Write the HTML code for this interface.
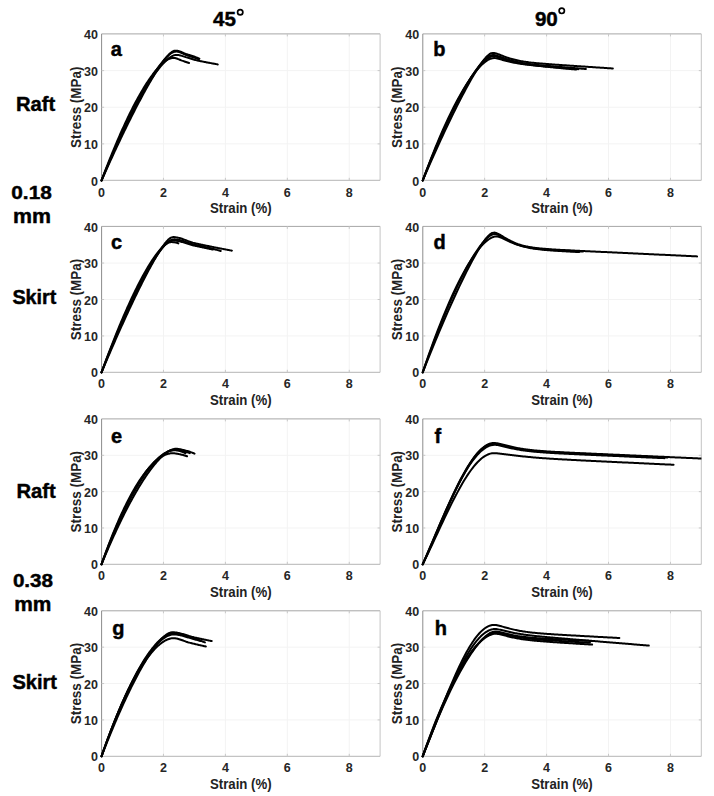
<!DOCTYPE html><html><head><meta charset="utf-8"><style>
html,body{margin:0;padding:0;background:#fff;}body{width:714px;height:796px;overflow:hidden;position:relative;}
svg{position:absolute;left:0;top:0;display:block;}
text{font-family:"Liberation Sans",sans-serif;font-weight:bold;}
.tk{font-size:12.5px;fill:#262626;}.al{font-size:13.8px;fill:#222;}.lt{font-size:20px;fill:#000;stroke:#000;stroke-width:0.45px;}.rl{fill:#000;stroke:#000;stroke-width:0.45px;}
</style></head><body>
<svg width="714" height="796" viewBox="0 0 714 796">
<text class="rl" x="213.0" y="25.5" font-size="20.6">45</text><circle cx="240.2" cy="12.3" r="2.65" fill="none" stroke="#000" stroke-width="1.7"/>
<text class="rl" x="534.9" y="25.7" font-size="20.6">90</text><circle cx="561.75" cy="10.85" r="2.65" fill="none" stroke="#000" stroke-width="1.7"/>
<text class="rl" x="15.9" y="111.1" font-size="20" textLength="39.3" lengthAdjust="spacingAndGlyphs">Raft</text>
<text class="rl" x="11.3" y="199.0" font-size="19.2" textLength="40.5" lengthAdjust="spacingAndGlyphs">0.18</text>
<text class="rl" x="13.1" y="222.5" font-size="20.4" textLength="38.0" lengthAdjust="spacingAndGlyphs">mm</text>
<text class="rl" x="12.4" y="303.6" font-size="20" textLength="44.0" lengthAdjust="spacingAndGlyphs">Skirt</text>
<text class="rl" x="16.4" y="497.9" font-size="20" textLength="39.3" lengthAdjust="spacingAndGlyphs">Raft</text>
<text class="rl" x="12.9" y="586.7" font-size="19.2" textLength="40.2" lengthAdjust="spacingAndGlyphs">0.38</text>
<text class="rl" x="14.2" y="611.2" font-size="20.4" textLength="37.2" lengthAdjust="spacingAndGlyphs">mm</text>
<text class="rl" x="12.4" y="689.1" font-size="20" textLength="44.6" lengthAdjust="spacingAndGlyphs">Skirt</text>
<path d="M163.44 34.00V180.50M225.38 34.00V180.50M287.32 34.00V180.50M349.26 34.00V180.50M101.50 143.88H380.23M101.50 107.25H380.23M101.50 70.62H380.23" stroke="#f3f3f3" stroke-width="1" fill="none"/>
<path d="M101.60 33.90H380.10" stroke="#a6a6a6" stroke-width="1" fill="none"/>
<path d="M380.10 33.90V180.30" stroke="#c4c4c4" stroke-width="1" fill="none"/>
<path d="M101.60 180.30H380.10" stroke="#b4b4b4" stroke-width="1" fill="none"/>
<path d="M101.60 33.90V180.30" stroke="#8c8c8c" stroke-width="1" fill="none"/>
<path d="M163.44 180.30v-2.5M163.44 33.90v2.5M225.38 180.30v-2.5M225.38 33.90v2.5M287.32 180.30v-2.5M287.32 33.90v2.5M349.26 180.30v-2.5M349.26 33.90v2.5M101.60 143.88h2.5M380.10 143.88h-2.5M101.60 107.25h2.5M380.10 107.25h-2.5M101.60 70.62h2.5M380.10 70.62h-2.5" stroke="#c8c8c8" stroke-width="1" fill="none"/>
<text class="tk" x="98.00" y="185.50" text-anchor="end">0</text>
<text class="tk" x="98.00" y="148.88" text-anchor="end">10</text>
<text class="tk" x="98.00" y="112.25" text-anchor="end">20</text>
<text class="tk" x="98.00" y="75.62" text-anchor="end">30</text>
<text class="tk" x="98.00" y="39.00" text-anchor="end">40</text>
<text class="tk" x="101.50" y="196.50" text-anchor="middle">0</text>
<text class="tk" x="163.44" y="196.50" text-anchor="middle">2</text>
<text class="tk" x="225.38" y="196.50" text-anchor="middle">4</text>
<text class="tk" x="287.32" y="196.50" text-anchor="middle">6</text>
<text class="tk" x="349.26" y="196.50" text-anchor="middle">8</text>
<text class="al" x="240.77" y="212.70" text-anchor="middle" textLength="61.6" lengthAdjust="spacingAndGlyphs">Strain (%)</text>
<text class="al" transform="translate(80.60,107.25) rotate(-90)" x="0" y="0" text-anchor="middle" textLength="81.5" lengthAdjust="spacingAndGlyphs">Stress (MPa)</text>
<text class="lt" x="110.80" y="56.00">a</text>
<g fill="none" stroke="#000" stroke-width="2" stroke-linejoin="round" stroke-linecap="round"><clipPath id="cp00"><rect x="99.5" y="32.0" width="280.73" height="150.5"/></clipPath>
<path clip-path="url(#cp00)" d="M101.50 180.50 L102.28 178.74 L103.07 176.98 L103.85 175.23 L104.63 173.48 L105.42 171.74 L106.20 170.00 L106.98 168.27 L107.77 166.54 L108.55 164.82 L109.33 163.10 L110.11 161.38 L110.90 159.67 L111.68 157.97 L112.46 156.27 L113.25 154.57 L114.03 152.88 L114.81 151.20 L115.60 149.52 L116.38 147.85 L117.16 146.18 L117.95 144.51 L118.73 142.85 L119.51 141.20 L120.30 139.55 L121.08 137.91 L121.86 136.28 L122.65 134.65 L123.43 133.02 L124.21 131.40 L125.00 129.79 L125.78 128.19 L126.56 126.58 L127.34 124.99 L128.13 123.40 L128.91 121.82 L129.69 120.25 L130.48 118.68 L131.26 117.12 L132.04 115.56 L132.83 114.01 L133.61 112.47 L134.39 110.94 L135.18 109.41 L135.96 107.89 L136.74 106.38 L137.53 104.87 L138.31 103.38 L139.09 101.89 L139.88 100.41 L140.66 98.94 L141.44 97.47 L142.22 96.02 L143.01 94.57 L143.79 93.13 L144.57 91.71 L145.36 90.29 L146.14 88.88 L146.92 87.48 L147.71 86.09 L148.49 84.71 L149.27 83.34 L150.06 81.99 L150.84 80.64 L151.62 79.31 L152.41 77.99 L153.19 76.68 L153.97 75.39 L154.76 74.10 L155.54 72.84 L156.32 71.59 L157.11 70.35 L157.89 69.13 L158.67 67.93 L159.45 66.74 L160.24 65.58 L161.02 64.43 L161.80 63.31 L162.59 62.21 L163.37 61.14 L164.15 60.09 L164.94 59.08 L165.72 58.09 L166.50 57.14 L167.29 56.23 L168.07 55.37 L168.85 54.55 L169.64 53.78 L170.42 53.09 L171.20 52.45 L171.99 51.90 L172.77 51.43 L173.55 51.05 L174.33 50.83 L175.12 50.67 L175.90 50.63 L176.68 50.68 L177.47 50.80 L178.25 50.97 L179.03 51.18 L179.82 51.44 L180.60 51.73 L181.38 52.04 L182.17 52.37 L182.95 52.71 L183.73 53.05 L184.52 53.39 L185.30 53.71 L186.08 54.01 L186.87 54.28 L187.65 54.54 L188.43 54.78 L189.21 55.03 L190.00 55.27 L190.78 55.51 L191.56 55.76 L192.35 56.01 L193.13 56.27 L193.91 56.53 L194.70 56.81 L195.48 57.10 L196.26 57.39 L197.05 57.70 L197.83 58.01 L198.61 58.33 L199.40 58.65"/>
<path clip-path="url(#cp00)" d="M101.50 180.50 L102.28 178.60 L103.07 176.70 L103.85 174.82 L104.64 172.94 L105.42 171.06 L106.21 169.20 L106.99 167.34 L107.77 165.49 L108.56 163.65 L109.34 161.82 L110.13 159.99 L110.91 158.18 L111.70 156.37 L112.48 154.57 L113.26 152.78 L114.05 150.99 L114.83 149.22 L115.62 147.45 L116.40 145.69 L117.18 143.94 L117.97 142.20 L118.75 140.47 L119.54 138.74 L120.32 137.03 L121.11 135.32 L121.89 133.62 L122.67 131.94 L123.46 130.26 L124.24 128.59 L125.03 126.93 L125.81 125.28 L126.60 123.64 L127.38 122.01 L128.16 120.39 L128.95 118.78 L129.73 117.18 L130.52 115.59 L131.30 114.01 L132.09 112.44 L132.87 110.88 L133.65 109.33 L134.44 107.79 L135.22 106.27 L136.01 104.75 L136.79 103.25 L137.58 101.76 L138.36 100.28 L139.14 98.81 L139.93 97.35 L140.71 95.90 L141.50 94.47 L142.28 93.05 L143.06 91.65 L143.85 90.25 L144.63 88.87 L145.42 87.50 L146.20 86.15 L146.99 84.81 L147.77 83.48 L148.55 82.17 L149.34 80.88 L150.12 79.60 L150.91 78.33 L151.69 77.08 L152.48 75.85 L153.26 74.63 L154.04 73.43 L154.83 72.25 L155.61 71.09 L156.40 69.94 L157.18 68.82 L157.97 67.71 L158.75 66.63 L159.53 65.57 L160.32 64.53 L161.10 63.51 L161.89 62.52 L162.67 61.56 L163.45 60.62 L164.24 59.71 L165.02 58.83 L165.81 57.99 L166.59 57.18 L167.38 56.40 L168.16 55.67 L168.94 54.98 L169.73 54.34 L170.51 53.75 L171.30 53.22 L172.08 52.75 L172.87 52.36 L173.65 52.02 L174.43 51.81 L175.22 51.66 L176.00 51.58 L176.79 51.61 L177.57 51.70 L178.36 51.86 L179.14 52.08 L179.92 52.34 L180.71 52.64 L181.49 52.96 L182.28 53.31 L183.06 53.66 L183.85 54.02 L184.63 54.37 L185.41 54.70 L186.20 55.00 L186.98 55.27 L187.77 55.53 L188.55 55.77 L189.33 56.01 L190.12 56.25 L190.90 56.49 L191.69 56.73 L192.47 56.98 L193.26 57.23 L194.04 57.50 L194.82 57.77 L195.61 58.05 L196.39 58.35 L197.18 58.65 L197.96 58.96 L198.75 59.27"/>
<path clip-path="url(#cp00)" d="M101.50 180.50 L102.28 178.57 L103.06 176.66 L103.84 174.75 L104.62 172.85 L105.40 170.96 L106.18 169.08 L106.96 167.21 L107.74 165.35 L108.52 163.50 L109.30 161.66 L110.09 159.82 L110.87 158.00 L111.65 156.19 L112.43 154.38 L113.21 152.59 L113.99 150.81 L114.77 149.03 L115.55 147.27 L116.33 145.52 L117.11 143.77 L117.89 142.04 L118.67 140.32 L119.45 138.61 L120.23 136.90 L121.01 135.21 L121.79 133.53 L122.57 131.87 L123.35 130.21 L124.13 128.56 L124.91 126.92 L125.70 125.30 L126.48 123.69 L127.26 122.08 L128.04 120.49 L128.82 118.91 L129.60 117.35 L130.38 115.79 L131.16 114.25 L131.94 112.72 L132.72 111.20 L133.50 109.69 L134.28 108.20 L135.06 106.71 L135.84 105.24 L136.62 103.79 L137.40 102.34 L138.18 100.92 L138.96 99.50 L139.74 98.10 L140.52 96.71 L141.30 95.33 L142.09 93.97 L142.87 92.62 L143.65 91.29 L144.43 89.97 L145.21 88.67 L145.99 87.38 L146.77 86.11 L147.55 84.85 L148.33 83.61 L149.11 82.39 L149.89 81.18 L150.67 79.99 L151.45 78.81 L152.23 77.65 L153.01 76.52 L153.79 75.40 L154.57 74.29 L155.35 73.21 L156.13 72.15 L156.91 71.10 L157.69 70.08 L158.48 69.08 L159.26 68.10 L160.04 67.14 L160.82 66.21 L161.60 65.30 L162.38 64.41 L163.16 63.56 L163.94 62.73 L164.72 61.92 L165.50 61.15 L166.28 60.41 L167.06 59.70 L167.84 59.03 L168.62 58.40 L169.40 57.81 L170.18 57.26 L170.96 56.76 L171.74 56.30 L172.52 55.91 L173.30 55.58 L174.09 55.29 L174.87 55.11 L175.65 54.98 L176.43 54.92 L177.21 54.93 L177.99 54.99 L178.77 55.11 L179.55 55.25 L180.33 55.44 L181.11 55.65 L181.89 55.87 L182.67 56.12 L183.45 56.37 L184.23 56.63 L185.01 56.88 L185.79 57.13 L186.57 57.35 L187.35 57.57 L188.13 57.79 L188.91 58.03 L189.69 58.27 L190.48 58.51 L191.26 58.76 L192.04 59.01 L192.82 59.25 L193.60 59.48 L194.38 59.71 L195.16 59.92 L195.94 60.12 L196.72 60.31 L197.50 60.49 L198.28 60.67 L199.06 60.84 L199.84 61.01 L200.62 61.17 L201.40 61.33 L202.18 61.49 L202.96 61.64 L203.74 61.79 L204.52 61.94 L205.30 62.09 L206.09 62.25 L206.87 62.40 L207.65 62.55 L208.43 62.70 L209.21 62.85 L209.99 63.00 L210.77 63.14 L211.55 63.29 L212.33 63.43 L213.11 63.57 L213.89 63.71 L214.67 63.85 L215.45 63.99 L216.23 64.13 L217.01 64.26 L217.79 64.40"/>
<path clip-path="url(#cp00)" d="M101.50 180.50 L102.28 178.41 L103.06 176.34 L103.85 174.28 L104.63 172.23 L105.41 170.19 L106.19 168.17 L106.98 166.16 L107.76 164.16 L108.54 162.17 L109.32 160.20 L110.10 158.24 L110.89 156.30 L111.67 154.37 L112.45 152.45 L113.23 150.54 L114.02 148.65 L114.80 146.77 L115.58 144.91 L116.36 143.06 L117.15 141.22 L117.93 139.40 L118.71 137.59 L119.49 135.80 L120.27 134.02 L121.06 132.25 L121.84 130.50 L122.62 128.77 L123.40 127.04 L124.19 125.34 L124.97 123.64 L125.75 121.97 L126.53 120.31 L127.31 118.66 L128.10 117.03 L128.88 115.41 L129.66 113.81 L130.44 112.23 L131.23 110.66 L132.01 109.11 L132.79 107.57 L133.57 106.05 L134.36 104.55 L135.14 103.06 L135.92 101.59 L136.70 100.14 L137.48 98.70 L138.27 97.28 L139.05 95.88 L139.83 94.50 L140.61 93.14 L141.40 91.79 L142.18 90.46 L142.96 89.15 L143.74 87.86 L144.52 86.59 L145.31 85.33 L146.09 84.10 L146.87 82.89 L147.65 81.70 L148.44 80.52 L149.22 79.37 L150.00 78.24 L150.78 77.13 L151.57 76.05 L152.35 74.98 L153.13 73.94 L153.91 72.92 L154.69 71.93 L155.48 70.96 L156.26 70.01 L157.04 69.09 L157.82 68.20 L158.61 67.33 L159.39 66.49 L160.17 65.68 L160.95 64.90 L161.73 64.15 L162.52 63.44 L163.30 62.75 L164.08 62.10 L164.86 61.49 L165.65 60.92 L166.43 60.39 L167.21 59.89 L167.99 59.45 L168.78 59.06 L169.56 58.71 L170.34 58.43 L171.12 58.19 L171.90 58.05 L172.69 57.95 L173.47 57.92 L174.25 57.96 L175.03 58.08 L175.82 58.26 L176.60 58.50 L177.38 58.77 L178.16 59.08 L178.94 59.40 L179.73 59.73 L180.51 60.05 L181.29 60.36 L182.07 60.65 L182.86 60.91 L183.64 61.17 L184.42 61.43 L185.20 61.69 L185.99 61.96 L186.77 62.23 L187.55 62.50 L188.33 62.77 L189.11 63.04"/>
</g>
<path d="M163.44 226.60V372.40M225.38 226.60V372.40M287.32 226.60V372.40M349.26 226.60V372.40M101.50 335.95H380.23M101.50 299.50H380.23M101.50 263.05H380.23" stroke="#f3f3f3" stroke-width="1" fill="none"/>
<path d="M101.60 226.40H380.10" stroke="#a6a6a6" stroke-width="1" fill="none"/>
<path d="M380.10 226.40V372.30" stroke="#c4c4c4" stroke-width="1" fill="none"/>
<path d="M101.60 372.30H380.10" stroke="#b4b4b4" stroke-width="1" fill="none"/>
<path d="M101.60 226.40V372.30" stroke="#8c8c8c" stroke-width="1" fill="none"/>
<path d="M163.44 372.30v-2.5M163.44 226.40v2.5M225.38 372.30v-2.5M225.38 226.40v2.5M287.32 372.30v-2.5M287.32 226.40v2.5M349.26 372.30v-2.5M349.26 226.40v2.5M101.60 335.95h2.5M380.10 335.95h-2.5M101.60 299.50h2.5M380.10 299.50h-2.5M101.60 263.05h2.5M380.10 263.05h-2.5" stroke="#c8c8c8" stroke-width="1" fill="none"/>
<text class="tk" x="98.00" y="377.40" text-anchor="end">0</text>
<text class="tk" x="98.00" y="340.95" text-anchor="end">10</text>
<text class="tk" x="98.00" y="304.50" text-anchor="end">20</text>
<text class="tk" x="98.00" y="268.05" text-anchor="end">30</text>
<text class="tk" x="98.00" y="231.60" text-anchor="end">40</text>
<text class="tk" x="101.50" y="388.40" text-anchor="middle">0</text>
<text class="tk" x="163.44" y="388.40" text-anchor="middle">2</text>
<text class="tk" x="225.38" y="388.40" text-anchor="middle">4</text>
<text class="tk" x="287.32" y="388.40" text-anchor="middle">6</text>
<text class="tk" x="349.26" y="388.40" text-anchor="middle">8</text>
<text class="al" x="240.77" y="404.60" text-anchor="middle" textLength="61.6" lengthAdjust="spacingAndGlyphs">Strain (%)</text>
<text class="al" transform="translate(80.60,299.50) rotate(-90)" x="0" y="0" text-anchor="middle" textLength="81.5" lengthAdjust="spacingAndGlyphs">Stress (MPa)</text>
<text class="lt" x="111.10" y="249.00">c</text>
<g fill="none" stroke="#000" stroke-width="2" stroke-linejoin="round" stroke-linecap="round"><clipPath id="cp01"><rect x="99.5" y="224.6" width="280.73" height="149.79999999999998"/></clipPath>
<path clip-path="url(#cp01)" d="M101.50 372.40 L102.28 370.55 L103.06 368.70 L103.84 366.85 L104.62 365.01 L105.40 363.18 L106.18 361.35 L106.97 359.52 L107.75 357.70 L108.53 355.88 L109.31 354.06 L110.09 352.25 L110.87 350.45 L111.65 348.65 L112.43 346.86 L113.21 345.07 L113.99 343.28 L114.77 341.50 L115.55 339.72 L116.33 337.95 L117.11 336.19 L117.90 334.43 L118.68 332.67 L119.46 330.93 L120.24 329.18 L121.02 327.44 L121.80 325.71 L122.58 323.98 L123.36 322.26 L124.14 320.54 L124.92 318.83 L125.70 317.13 L126.48 315.43 L127.26 313.74 L128.05 312.05 L128.83 310.37 L129.61 308.70 L130.39 307.03 L131.17 305.37 L131.95 303.72 L132.73 302.07 L133.51 300.43 L134.29 298.80 L135.07 297.18 L135.85 295.56 L136.63 293.95 L137.41 292.35 L138.19 290.75 L138.98 289.16 L139.76 287.59 L140.54 286.02 L141.32 284.45 L142.10 282.90 L142.88 281.36 L143.66 279.82 L144.44 278.30 L145.22 276.78 L146.00 275.28 L146.78 273.79 L147.56 272.30 L148.34 270.83 L149.13 269.37 L149.91 267.92 L150.69 266.48 L151.47 265.06 L152.25 263.65 L153.03 262.25 L153.81 260.87 L154.59 259.51 L155.37 258.16 L156.15 256.82 L156.93 255.51 L157.71 254.21 L158.49 252.94 L159.27 251.69 L160.06 250.46 L160.84 249.25 L161.62 248.08 L162.40 246.93 L163.18 245.82 L163.96 244.74 L164.74 243.71 L165.52 242.72 L166.30 241.78 L167.08 240.89 L167.86 240.09 L168.64 239.34 L169.42 238.69 L170.21 238.13 L170.99 237.66 L171.77 237.38 L172.55 237.18 L173.33 237.10 L174.11 237.12 L174.89 237.17 L175.67 237.25 L176.45 237.37 L177.23 237.51 L178.01 237.67 L178.79 237.86 L179.57 238.07 L180.35 238.29 L181.14 238.54 L181.92 238.79 L182.70 239.06 L183.48 239.34 L184.26 239.63 L185.04 239.92 L185.82 240.21 L186.60 240.51 L187.38 240.81 L188.16 241.10 L188.94 241.39 L189.72 241.67 L190.50 241.94 L191.29 242.20 L192.07 242.44 L192.85 242.67 L193.63 242.88 L194.41 243.08 L195.19 243.26 L195.97 243.45 L196.75 243.63 L197.53 243.80 L198.31 243.98 L199.09 244.15 L199.87 244.32 L200.65 244.49 L201.43 244.66 L202.22 244.82 L203.00 244.99 L203.78 245.15 L204.56 245.31 L205.34 245.47 L206.12 245.63 L206.90 245.79 L207.68 245.94 L208.46 246.10 L209.24 246.26 L210.02 246.41 L210.80 246.57 L211.58 246.73 L212.37 246.89 L213.15 247.04 L213.93 247.20 L214.71 247.36 L215.49 247.51 L216.27 247.67 L217.05 247.82 L217.83 247.98 L218.61 248.13 L219.39 248.29 L220.17 248.44 L220.95 248.59 L221.73 248.74 L222.51 248.89 L223.30 249.04 L224.08 249.19 L224.86 249.34 L225.64 249.49 L226.42 249.64 L227.20 249.79 L227.98 249.93 L228.76 250.08 L229.54 250.22 L230.32 250.37 L231.10 250.51 L231.88 250.66"/>
<path clip-path="url(#cp01)" d="M101.50 372.40 L102.28 370.41 L103.06 368.44 L103.84 366.47 L104.62 364.50 L105.40 362.55 L106.18 360.60 L106.96 358.66 L107.73 356.73 L108.51 354.81 L109.29 352.89 L110.07 350.98 L110.85 349.09 L111.63 347.19 L112.41 345.31 L113.19 343.44 L113.97 341.57 L114.75 339.72 L115.53 337.87 L116.31 336.03 L117.09 334.20 L117.87 332.38 L118.64 330.56 L119.42 328.76 L120.20 326.97 L120.98 325.18 L121.76 323.41 L122.54 321.64 L123.32 319.88 L124.10 318.14 L124.88 316.40 L125.66 314.67 L126.44 312.95 L127.22 311.25 L128.00 309.55 L128.78 307.86 L129.56 306.19 L130.33 304.52 L131.11 302.87 L131.89 301.22 L132.67 299.59 L133.45 297.97 L134.23 296.36 L135.01 294.76 L135.79 293.17 L136.57 291.59 L137.35 290.03 L138.13 288.48 L138.91 286.94 L139.69 285.41 L140.47 283.90 L141.24 282.40 L142.02 280.91 L142.80 279.44 L143.58 277.98 L144.36 276.53 L145.14 275.10 L145.92 273.68 L146.70 272.28 L147.48 270.89 L148.26 269.52 L149.04 268.17 L149.82 266.83 L150.60 265.51 L151.38 264.20 L152.16 262.91 L152.93 261.64 L153.71 260.39 L154.49 259.16 L155.27 257.95 L156.05 256.77 L156.83 255.60 L157.61 254.45 L158.39 253.33 L159.17 252.23 L159.95 251.16 L160.73 250.12 L161.51 249.11 L162.29 248.12 L163.07 247.17 L163.84 246.25 L164.62 245.37 L165.40 244.53 L166.18 243.74 L166.96 242.99 L167.74 242.29 L168.52 241.66 L169.30 241.08 L170.08 240.57 L170.86 240.15 L171.64 239.79 L172.42 239.58 L173.20 239.42 L173.98 239.36 L174.76 239.37 L175.53 239.42 L176.31 239.49 L177.09 239.59 L177.87 239.71 L178.65 239.86 L179.43 240.02 L180.21 240.20 L180.99 240.40 L181.77 240.61 L182.55 240.84 L183.33 241.08 L184.11 241.32 L184.89 241.58 L185.67 241.83 L186.44 242.10 L187.22 242.36 L188.00 242.62 L188.78 242.88 L189.56 243.14 L190.34 243.39 L191.12 243.64 L191.90 243.87 L192.68 244.09 L193.46 244.30 L194.24 244.49 L195.02 244.68 L195.80 244.86 L196.58 245.05 L197.36 245.22 L198.13 245.40 L198.91 245.58 L199.69 245.75 L200.47 245.93 L201.25 246.10 L202.03 246.27 L202.81 246.45 L203.59 246.62 L204.37 246.79 L205.15 246.97 L205.93 247.14 L206.71 247.32 L207.49 247.50 L208.27 247.68 L209.04 247.86 L209.82 248.05 L210.60 248.24 L211.38 248.43 L212.16 248.62 L212.94 248.82 L213.72 249.02 L214.50 249.23 L215.28 249.45 L216.06 249.66 L216.84 249.88 L217.62 250.11 L218.40 250.33 L219.18 250.56 L219.96 250.79 L220.73 251.02"/>
<path clip-path="url(#cp01)" d="M101.50 372.40 L102.28 370.35 L103.06 368.31 L103.84 366.27 L104.62 364.25 L105.40 362.23 L106.18 360.23 L106.96 358.23 L107.74 356.24 L108.52 354.26 L109.30 352.29 L110.08 350.33 L110.86 348.38 L111.64 346.44 L112.42 344.51 L113.19 342.59 L113.97 340.68 L114.75 338.77 L115.53 336.88 L116.31 335.00 L117.09 333.13 L117.87 331.27 L118.65 329.42 L119.43 327.58 L120.21 325.75 L120.99 323.93 L121.77 322.12 L122.55 320.32 L123.33 318.53 L124.11 316.76 L124.89 314.99 L125.67 313.24 L126.45 311.50 L127.23 309.77 L128.01 308.05 L128.79 306.34 L129.57 304.65 L130.35 302.96 L131.13 301.29 L131.91 299.63 L132.69 297.99 L133.47 296.36 L134.25 294.74 L135.03 293.13 L135.81 291.54 L136.58 289.96 L137.36 288.39 L138.14 286.84 L138.92 285.30 L139.70 283.77 L140.48 282.27 L141.26 280.77 L142.04 279.29 L142.82 277.83 L143.60 276.38 L144.38 274.94 L145.16 273.53 L145.94 272.13 L146.72 270.74 L147.50 269.38 L148.28 268.03 L149.06 266.70 L149.84 265.39 L150.62 264.10 L151.40 262.82 L152.18 261.57 L152.96 260.34 L153.74 259.13 L154.52 257.94 L155.30 256.77 L156.08 255.63 L156.86 254.51 L157.64 253.42 L158.42 252.35 L159.20 251.31 L159.97 250.31 L160.75 249.33 L161.53 248.38 L162.31 247.47 L163.09 246.60 L163.87 245.77 L164.65 244.97 L165.43 244.23 L166.21 243.53 L166.99 242.89 L167.77 242.32 L168.55 241.79 L169.33 241.36 L170.11 240.99 L170.89 240.72 L171.67 240.56 L172.45 240.46 L173.23 240.46 L174.01 240.49 L174.79 240.54 L175.57 240.62 L176.35 240.73 L177.13 240.85 L177.91 240.99 L178.69 241.15 L179.47 241.33 L180.25 241.52 L181.03 241.72 L181.81 241.93 L182.59 242.16 L183.36 242.39 L184.14 242.63 L184.92 242.87 L185.70 243.11 L186.48 243.36 L187.26 243.61 L188.04 243.86 L188.82 244.10 L189.60 244.34 L190.38 244.57 L191.16 244.80 L191.94 245.02 L192.72 245.22 L193.50 245.41 L194.28 245.59 L195.06 245.77 L195.84 245.94 L196.62 246.12 L197.40 246.29 L198.18 246.46 L198.96 246.63 L199.74 246.80 L200.52 246.97 L201.30 247.14 L202.08 247.30 L202.86 247.47 L203.64 247.64 L204.42 247.80 L205.20 247.97 L205.98 248.13 L206.75 248.29 L207.53 248.45 L208.31 248.61 L209.09 248.77 L209.87 248.93 L210.65 249.09 L211.43 249.25 L212.21 249.41 L212.99 249.56"/>
<path clip-path="url(#cp01)" d="M101.50 372.40 L102.28 370.24 L103.07 368.10 L103.85 365.97 L104.63 363.84 L105.42 361.73 L106.20 359.63 L106.99 357.54 L107.77 355.47 L108.55 353.40 L109.34 351.35 L110.12 349.31 L110.90 347.28 L111.69 345.26 L112.47 343.25 L113.26 341.26 L114.04 339.27 L114.82 337.30 L115.61 335.35 L116.39 333.40 L117.17 331.47 L117.96 329.55 L118.74 327.64 L119.53 325.75 L120.31 323.86 L121.09 322.00 L121.88 320.14 L122.66 318.30 L123.44 316.47 L124.23 314.66 L125.01 312.85 L125.80 311.07 L126.58 309.29 L127.36 307.53 L128.15 305.79 L128.93 304.06 L129.71 302.34 L130.50 300.64 L131.28 298.96 L132.07 297.28 L132.85 295.63 L133.63 293.99 L134.42 292.36 L135.20 290.75 L135.98 289.16 L136.77 287.58 L137.55 286.02 L138.34 284.48 L139.12 282.95 L139.90 281.44 L140.69 279.95 L141.47 278.48 L142.25 277.02 L143.04 275.58 L143.82 274.16 L144.61 272.76 L145.39 271.38 L146.17 270.02 L146.96 268.68 L147.74 267.36 L148.52 266.06 L149.31 264.78 L150.09 263.53 L150.88 262.29 L151.66 261.08 L152.44 259.89 L153.23 258.73 L154.01 257.59 L154.79 256.48 L155.58 255.39 L156.36 254.34 L157.14 253.31 L157.93 252.31 L158.71 251.34 L159.50 250.40 L160.28 249.50 L161.06 248.63 L161.85 247.80 L162.63 247.02 L163.41 246.27 L164.20 245.57 L164.98 244.92 L165.77 244.32 L166.55 243.79 L167.33 243.31 L168.12 242.91 L168.90 242.57 L169.68 242.33 L170.47 242.19 L171.25 242.10 L172.04 242.10 L172.82 242.13 L173.60 242.18 L174.39 242.27 L175.17 242.40 L175.95 242.57 L176.74 242.79 L177.52 243.05 L178.31 243.37"/>
</g>
<path d="M163.44 419.00V564.30M225.38 419.00V564.30M287.32 419.00V564.30M349.26 419.00V564.30M101.50 527.97H380.23M101.50 491.65H380.23M101.50 455.32H380.23" stroke="#f3f3f3" stroke-width="1" fill="none"/>
<path d="M101.60 418.90H380.10" stroke="#a6a6a6" stroke-width="1" fill="none"/>
<path d="M380.10 418.90V564.30" stroke="#c4c4c4" stroke-width="1" fill="none"/>
<path d="M101.60 564.30H380.10" stroke="#b4b4b4" stroke-width="1" fill="none"/>
<path d="M101.60 418.90V564.30" stroke="#8c8c8c" stroke-width="1" fill="none"/>
<path d="M163.44 564.30v-2.5M163.44 418.90v2.5M225.38 564.30v-2.5M225.38 418.90v2.5M287.32 564.30v-2.5M287.32 418.90v2.5M349.26 564.30v-2.5M349.26 418.90v2.5M101.60 527.97h2.5M380.10 527.97h-2.5M101.60 491.65h2.5M380.10 491.65h-2.5M101.60 455.32h2.5M380.10 455.32h-2.5" stroke="#c8c8c8" stroke-width="1" fill="none"/>
<text class="tk" x="98.00" y="569.30" text-anchor="end">0</text>
<text class="tk" x="98.00" y="532.97" text-anchor="end">10</text>
<text class="tk" x="98.00" y="496.65" text-anchor="end">20</text>
<text class="tk" x="98.00" y="460.32" text-anchor="end">30</text>
<text class="tk" x="98.00" y="424.00" text-anchor="end">40</text>
<text class="tk" x="101.50" y="580.30" text-anchor="middle">0</text>
<text class="tk" x="163.44" y="580.30" text-anchor="middle">2</text>
<text class="tk" x="225.38" y="580.30" text-anchor="middle">4</text>
<text class="tk" x="287.32" y="580.30" text-anchor="middle">6</text>
<text class="tk" x="349.26" y="580.30" text-anchor="middle">8</text>
<text class="al" x="240.77" y="596.50" text-anchor="middle" textLength="61.6" lengthAdjust="spacingAndGlyphs">Strain (%)</text>
<text class="al" transform="translate(80.60,491.65) rotate(-90)" x="0" y="0" text-anchor="middle" textLength="81.5" lengthAdjust="spacingAndGlyphs">Stress (MPa)</text>
<text class="lt" x="111.10" y="442.90">e</text>
<g fill="none" stroke="#000" stroke-width="2" stroke-linejoin="round" stroke-linecap="round"><clipPath id="cp02"><rect x="99.5" y="417.0" width="280.73" height="149.29999999999995"/></clipPath>
<path clip-path="url(#cp02)" d="M101.50 564.30 L102.28 562.41 L103.06 560.54 L103.84 558.67 L104.63 556.81 L105.41 554.97 L106.19 553.14 L106.97 551.31 L107.75 549.50 L108.53 547.70 L109.32 545.91 L110.10 544.14 L110.88 542.37 L111.66 540.62 L112.44 538.87 L113.22 537.14 L114.00 535.42 L114.79 533.71 L115.57 532.02 L116.35 530.33 L117.13 528.66 L117.91 527.00 L118.69 525.35 L119.48 523.72 L120.26 522.09 L121.04 520.48 L121.82 518.88 L122.60 517.29 L123.38 515.72 L124.16 514.16 L124.95 512.61 L125.73 511.07 L126.51 509.55 L127.29 508.04 L128.07 506.54 L128.85 505.06 L129.64 503.59 L130.42 502.13 L131.20 500.69 L131.98 499.26 L132.76 497.85 L133.54 496.44 L134.32 495.06 L135.11 493.68 L135.89 492.32 L136.67 490.98 L137.45 489.65 L138.23 488.33 L139.01 487.03 L139.80 485.75 L140.58 484.48 L141.36 483.22 L142.14 481.99 L142.92 480.76 L143.70 479.56 L144.48 478.36 L145.27 477.19 L146.05 476.03 L146.83 474.89 L147.61 473.76 L148.39 472.66 L149.17 471.57 L149.96 470.50 L150.74 469.44 L151.52 468.41 L152.30 467.39 L153.08 466.39 L153.86 465.41 L154.64 464.45 L155.43 463.51 L156.21 462.59 L156.99 461.70 L157.77 460.82 L158.55 459.97 L159.33 459.13 L160.12 458.32 L160.90 457.54 L161.68 456.78 L162.46 456.04 L163.24 455.33 L164.02 454.65 L164.80 454.00 L165.59 453.37 L166.37 452.78 L167.15 452.22 L167.93 451.69 L168.71 451.20 L169.49 450.74 L170.28 450.33 L171.06 449.96 L171.84 449.63 L172.62 449.35 L173.40 449.12 L174.18 448.96 L174.96 448.86 L175.75 448.79 L176.53 448.79 L177.31 448.84 L178.09 448.91 L178.87 449.01 L179.65 449.15 L180.44 449.30 L181.22 449.47 L182.00 449.65 L182.78 449.85 L183.56 450.05 L184.34 450.26 L185.12 450.46 L185.91 450.66 L186.69 450.86 L187.47 451.08 L188.25 451.31 L189.03 451.56 L189.81 451.82 L190.60 452.09 L191.38 452.38 L192.16 452.67 L192.94 452.98 L193.72 453.30 L194.50 453.62"/>
<path clip-path="url(#cp02)" d="M101.50 564.30 L102.28 562.25 L103.06 560.21 L103.84 558.19 L104.62 556.18 L105.41 554.19 L106.19 552.21 L106.97 550.25 L107.75 548.31 L108.53 546.37 L109.31 544.46 L110.09 542.56 L110.87 540.67 L111.65 538.80 L112.44 536.95 L113.22 535.11 L114.00 533.29 L114.78 531.48 L115.56 529.69 L116.34 527.92 L117.12 526.16 L117.90 524.41 L118.68 522.69 L119.47 520.98 L120.25 519.28 L121.03 517.60 L121.81 515.94 L122.59 514.29 L123.37 512.67 L124.15 511.05 L124.93 509.46 L125.71 507.88 L126.50 506.32 L127.28 504.77 L128.06 503.24 L128.84 501.73 L129.62 500.24 L130.40 498.77 L131.18 497.31 L131.96 495.87 L132.74 494.44 L133.53 493.04 L134.31 491.65 L135.09 490.28 L135.87 488.93 L136.65 487.60 L137.43 486.28 L138.21 484.99 L138.99 483.71 L139.77 482.45 L140.56 481.21 L141.34 479.99 L142.12 478.79 L142.90 477.61 L143.68 476.44 L144.46 475.30 L145.24 474.18 L146.02 473.08 L146.80 471.99 L147.59 470.93 L148.37 469.89 L149.15 468.87 L149.93 467.87 L150.71 466.89 L151.49 465.93 L152.27 465.00 L153.05 464.09 L153.83 463.20 L154.61 462.33 L155.40 461.48 L156.18 460.66 L156.96 459.86 L157.74 459.09 L158.52 458.34 L159.30 457.62 L160.08 456.92 L160.86 456.24 L161.64 455.60 L162.43 454.98 L163.21 454.38 L163.99 453.82 L164.77 453.29 L165.55 452.78 L166.33 452.31 L167.11 451.86 L167.89 451.46 L168.67 451.08 L169.46 450.74 L170.24 450.44 L171.02 450.18 L171.80 449.96 L172.58 449.77 L173.36 449.65 L174.14 449.57 L174.92 449.52 L175.70 449.52 L176.49 449.59 L177.27 449.69 L178.05 449.84 L178.83 450.02 L179.61 450.22 L180.39 450.43 L181.17 450.66 L181.95 450.89 L182.73 451.11 L183.52 451.32 L184.30 451.52 L185.08 451.73 L185.86 451.95 L186.64 452.17 L187.42 452.41 L188.20 452.65 L188.98 452.89 L189.76 453.15"/>
<path clip-path="url(#cp02)" d="M101.50 564.30 L102.28 562.17 L103.07 560.05 L103.85 557.95 L104.63 555.87 L105.42 553.80 L106.20 551.76 L106.98 549.72 L107.77 547.71 L108.55 545.72 L109.33 543.74 L110.12 541.78 L110.90 539.83 L111.68 537.91 L112.47 536.00 L113.25 534.11 L114.03 532.24 L114.81 530.38 L115.60 528.55 L116.38 526.73 L117.16 524.93 L117.95 523.15 L118.73 521.38 L119.51 519.64 L120.30 517.91 L121.08 516.20 L121.86 514.51 L122.65 512.84 L123.43 511.18 L124.21 509.55 L125.00 507.93 L125.78 506.34 L126.56 504.76 L127.35 503.20 L128.13 501.66 L128.91 500.14 L129.70 498.64 L130.48 497.16 L131.26 495.70 L132.05 494.25 L132.83 492.83 L133.61 491.43 L134.40 490.04 L135.18 488.68 L135.96 487.34 L136.75 486.01 L137.53 484.71 L138.31 483.43 L139.09 482.17 L139.88 480.92 L140.66 479.70 L141.44 478.50 L142.23 477.33 L143.01 476.17 L143.79 475.03 L144.58 473.92 L145.36 472.83 L146.14 471.76 L146.93 470.71 L147.71 469.68 L148.49 468.68 L149.28 467.70 L150.06 466.74 L150.84 465.80 L151.63 464.89 L152.41 464.00 L153.19 463.14 L153.98 462.30 L154.76 461.48 L155.54 460.69 L156.33 459.92 L157.11 459.17 L157.89 458.46 L158.68 457.77 L159.46 457.10 L160.24 456.46 L161.02 455.85 L161.81 455.27 L162.59 454.71 L163.37 454.18 L164.16 453.69 L164.94 453.22 L165.72 452.78 L166.51 452.37 L167.29 452.00 L168.07 451.66 L168.86 451.36 L169.64 451.09 L170.42 450.86 L171.21 450.67 L171.99 450.51 L172.77 450.41 L173.56 450.34 L174.34 450.31 L175.12 450.32 L175.91 450.36 L176.69 450.43 L177.47 450.53 L178.26 450.66 L179.04 450.82 L179.82 451.01 L180.61 451.23 L181.39 451.48 L182.17 451.76 L182.96 452.08 L183.74 452.42 L184.52 452.80 L185.30 453.22"/>
<path clip-path="url(#cp02)" d="M101.50 564.30 L102.28 562.07 L103.07 559.86 L103.85 557.67 L104.64 555.50 L105.42 553.35 L106.21 551.22 L106.99 549.11 L107.78 547.02 L108.56 544.95 L109.34 542.91 L110.13 540.88 L110.91 538.88 L111.70 536.90 L112.48 534.93 L113.27 532.99 L114.05 531.07 L114.84 529.17 L115.62 527.29 L116.41 525.44 L117.19 523.60 L117.97 521.79 L118.76 519.99 L119.54 518.22 L120.33 516.47 L121.11 514.74 L121.90 513.04 L122.68 511.35 L123.47 509.69 L124.25 508.04 L125.03 506.42 L125.82 504.83 L126.60 503.25 L127.39 501.70 L128.17 500.16 L128.96 498.65 L129.74 497.17 L130.53 495.70 L131.31 494.26 L132.09 492.84 L132.88 491.44 L133.66 490.07 L134.45 488.71 L135.23 487.38 L136.02 486.08 L136.80 484.79 L137.59 483.53 L138.37 482.29 L139.15 481.08 L139.94 479.89 L140.72 478.72 L141.51 477.58 L142.29 476.46 L143.08 475.36 L143.86 474.29 L144.65 473.24 L145.43 472.21 L146.22 471.21 L147.00 470.24 L147.78 469.29 L148.57 468.36 L149.35 467.46 L150.14 466.58 L150.92 465.73 L151.71 464.90 L152.49 464.10 L153.28 463.33 L154.06 462.58 L154.84 461.85 L155.63 461.16 L156.41 460.49 L157.20 459.84 L157.98 459.23 L158.77 458.64 L159.55 458.07 L160.34 457.54 L161.12 457.04 L161.90 456.56 L162.69 456.11 L163.47 455.69 L164.26 455.31 L165.04 454.95 L165.83 454.62 L166.61 454.33 L167.40 454.07 L168.18 453.84 L168.97 453.65 L169.75 453.49 L170.53 453.36 L171.32 453.29 L172.10 453.23 L172.89 453.22 L173.67 453.25 L174.46 453.31 L175.24 453.40 L176.03 453.52 L176.81 453.66 L177.59 453.81 L178.38 453.97 L179.16 454.14 L179.95 454.31 L180.73 454.47 L181.52 454.65 L182.30 454.84 L183.09 455.05 L183.87 455.28 L184.65 455.52 L185.44 455.77 L186.22 456.03 L187.01 456.31"/>
</g>
<path d="M163.44 610.80V756.30M225.38 610.80V756.30M287.32 610.80V756.30M349.26 610.80V756.30M101.50 719.92H380.23M101.50 683.55H380.23M101.50 647.17H380.23" stroke="#f3f3f3" stroke-width="1" fill="none"/>
<path d="M101.60 610.80H380.10" stroke="#a6a6a6" stroke-width="1" fill="none"/>
<path d="M380.10 610.80V756.30" stroke="#c4c4c4" stroke-width="1" fill="none"/>
<path d="M101.60 756.30H380.10" stroke="#b4b4b4" stroke-width="1" fill="none"/>
<path d="M101.60 610.80V756.30" stroke="#8c8c8c" stroke-width="1" fill="none"/>
<path d="M163.44 756.30v-2.5M163.44 610.80v2.5M225.38 756.30v-2.5M225.38 610.80v2.5M287.32 756.30v-2.5M287.32 610.80v2.5M349.26 756.30v-2.5M349.26 610.80v2.5M101.60 719.92h2.5M380.10 719.92h-2.5M101.60 683.55h2.5M380.10 683.55h-2.5M101.60 647.17h2.5M380.10 647.17h-2.5" stroke="#c8c8c8" stroke-width="1" fill="none"/>
<text class="tk" x="98.00" y="761.30" text-anchor="end">0</text>
<text class="tk" x="98.00" y="724.92" text-anchor="end">10</text>
<text class="tk" x="98.00" y="688.55" text-anchor="end">20</text>
<text class="tk" x="98.00" y="652.17" text-anchor="end">30</text>
<text class="tk" x="98.00" y="615.80" text-anchor="end">40</text>
<text class="tk" x="101.50" y="772.30" text-anchor="middle">0</text>
<text class="tk" x="163.44" y="772.30" text-anchor="middle">2</text>
<text class="tk" x="225.38" y="772.30" text-anchor="middle">4</text>
<text class="tk" x="287.32" y="772.30" text-anchor="middle">6</text>
<text class="tk" x="349.26" y="772.30" text-anchor="middle">8</text>
<text class="al" x="240.77" y="788.50" text-anchor="middle" textLength="61.6" lengthAdjust="spacingAndGlyphs">Strain (%)</text>
<text class="al" transform="translate(80.60,683.55) rotate(-90)" x="0" y="0" text-anchor="middle" textLength="81.5" lengthAdjust="spacingAndGlyphs">Stress (MPa)</text>
<text class="lt" x="112.20" y="634.70">g</text>
<g fill="none" stroke="#000" stroke-width="2" stroke-linejoin="round" stroke-linecap="round"><clipPath id="cp03"><rect x="99.5" y="608.8" width="280.73" height="149.5"/></clipPath>
<path clip-path="url(#cp03)" d="M101.50 756.30 L102.28 754.28 L103.06 752.27 L103.85 750.28 L104.63 748.29 L105.41 746.31 L106.19 744.35 L106.97 742.39 L107.76 740.44 L108.54 738.51 L109.32 736.58 L110.10 734.67 L110.88 732.77 L111.67 730.88 L112.45 729.00 L113.23 727.13 L114.01 725.27 L114.79 723.42 L115.57 721.58 L116.36 719.76 L117.14 717.95 L117.92 716.15 L118.70 714.36 L119.48 712.58 L120.27 710.81 L121.05 709.06 L121.83 707.32 L122.61 705.59 L123.39 703.87 L124.18 702.16 L124.96 700.47 L125.74 698.79 L126.52 697.13 L127.30 695.47 L128.09 693.83 L128.87 692.20 L129.65 690.59 L130.43 688.99 L131.21 687.40 L132.00 685.83 L132.78 684.27 L133.56 682.72 L134.34 681.19 L135.12 679.68 L135.91 678.17 L136.69 676.69 L137.47 675.21 L138.25 673.76 L139.03 672.32 L139.81 670.89 L140.60 669.48 L141.38 668.09 L142.16 666.71 L142.94 665.35 L143.72 664.00 L144.51 662.68 L145.29 661.37 L146.07 660.08 L146.85 658.80 L147.63 657.55 L148.42 656.31 L149.20 655.09 L149.98 653.90 L150.76 652.72 L151.54 651.56 L152.33 650.43 L153.11 649.32 L153.89 648.22 L154.67 647.16 L155.45 646.11 L156.24 645.09 L157.02 644.10 L157.80 643.13 L158.58 642.19 L159.36 641.27 L160.15 640.39 L160.93 639.54 L161.71 638.72 L162.49 637.93 L163.27 637.18 L164.06 636.47 L164.84 635.80 L165.62 635.18 L166.40 634.60 L167.18 634.08 L167.96 633.60 L168.75 633.20 L169.53 632.86 L170.31 632.58 L171.09 632.41 L171.87 632.30 L172.66 632.26 L173.44 632.28 L174.22 632.32 L175.00 632.39 L175.78 632.48 L176.57 632.59 L177.35 632.73 L178.13 632.87 L178.91 633.04 L179.69 633.22 L180.48 633.42 L181.26 633.62 L182.04 633.84 L182.82 634.06 L183.60 634.29 L184.39 634.53 L185.17 634.77 L185.95 635.02 L186.73 635.27 L187.51 635.51 L188.30 635.75 L189.08 636.00 L189.86 636.23 L190.64 636.46 L191.42 636.68 L192.20 636.89 L192.99 637.09 L193.77 637.28 L194.55 637.45 L195.33 637.63 L196.11 637.80 L196.90 637.97 L197.68 638.14 L198.46 638.31 L199.24 638.48 L200.02 638.65 L200.81 638.82 L201.59 638.99 L202.37 639.16 L203.15 639.32 L203.93 639.49 L204.72 639.65 L205.50 639.82 L206.28 639.98 L207.06 640.14 L207.84 640.30 L208.63 640.46 L209.41 640.62 L210.19 640.78 L210.97 640.94 L211.75 641.10"/>
<path clip-path="url(#cp03)" d="M101.50 756.30 L102.28 754.07 L103.07 751.86 L103.85 749.67 L104.63 747.49 L105.42 745.32 L106.20 743.18 L106.99 741.04 L107.77 738.93 L108.55 736.83 L109.34 734.75 L110.12 732.68 L110.90 730.63 L111.69 728.59 L112.47 726.58 L113.25 724.58 L114.04 722.59 L114.82 720.63 L115.61 718.68 L116.39 716.74 L117.17 714.83 L117.96 712.93 L118.74 711.05 L119.52 709.18 L120.31 707.33 L121.09 705.51 L121.87 703.69 L122.66 701.90 L123.44 700.12 L124.23 698.37 L125.01 696.62 L125.79 694.90 L126.58 693.20 L127.36 691.51 L128.14 689.85 L128.93 688.20 L129.71 686.57 L130.49 684.96 L131.28 683.37 L132.06 681.80 L132.85 680.24 L133.63 678.71 L134.41 677.20 L135.20 675.70 L135.98 674.23 L136.76 672.78 L137.55 671.34 L138.33 669.93 L139.11 668.54 L139.90 667.16 L140.68 665.81 L141.47 664.48 L142.25 663.18 L143.03 661.89 L143.82 660.63 L144.60 659.38 L145.38 658.16 L146.17 656.97 L146.95 655.79 L147.73 654.64 L148.52 653.51 L149.30 652.41 L150.09 651.33 L150.87 650.27 L151.65 649.24 L152.44 648.23 L153.22 647.25 L154.00 646.30 L154.79 645.37 L155.57 644.47 L156.35 643.60 L157.14 642.75 L157.92 641.93 L158.71 641.15 L159.49 640.39 L160.27 639.66 L161.06 638.97 L161.84 638.31 L162.62 637.68 L163.41 637.08 L164.19 636.53 L164.97 636.01 L165.76 635.53 L166.54 635.09 L167.33 634.70 L168.11 634.35 L168.89 634.04 L169.68 633.80 L170.46 633.59 L171.24 633.47 L172.03 633.38 L172.81 633.35 L173.59 633.37 L174.38 633.40 L175.16 633.46 L175.95 633.54 L176.73 633.64 L177.51 633.76 L178.30 633.89 L179.08 634.04 L179.86 634.21 L180.65 634.38 L181.43 634.57 L182.21 634.78 L183.00 634.99 L183.78 635.21 L184.57 635.44 L185.35 635.68 L186.13 635.92 L186.92 636.17 L187.70 636.42 L188.48 636.67 L189.27 636.92 L190.05 637.18 L190.83 637.43 L191.62 637.68 L192.40 637.93 L193.19 638.17 L193.97 638.41 L194.75 638.64 L195.54 638.89 L196.32 639.15 L197.10 639.41 L197.89 639.69 L198.67 639.97 L199.45 640.26 L200.24 640.56 L201.02 640.86 L201.81 641.17 L202.59 641.49 L203.37 641.80 L204.16 642.12 L204.94 642.45"/>
<path clip-path="url(#cp03)" d="M101.50 756.30 L102.28 754.07 L103.06 751.86 L103.84 749.67 L104.62 747.49 L105.40 745.33 L106.18 743.19 L106.96 741.07 L107.74 738.96 L108.52 736.86 L109.30 734.79 L110.08 732.73 L110.86 730.69 L111.64 728.67 L112.42 726.66 L113.21 724.67 L113.99 722.70 L114.77 720.75 L115.55 718.81 L116.33 716.89 L117.11 714.99 L117.89 713.11 L118.67 711.24 L119.45 709.40 L120.23 707.57 L121.01 705.76 L121.79 703.96 L122.57 702.19 L123.35 700.43 L124.13 698.70 L124.91 696.98 L125.69 695.28 L126.47 693.60 L127.25 691.94 L128.03 690.29 L128.81 688.67 L129.59 687.07 L130.37 685.48 L131.15 683.91 L131.93 682.37 L132.71 680.84 L133.49 679.34 L134.27 677.85 L135.05 676.38 L135.84 674.94 L136.62 673.51 L137.40 672.11 L138.18 670.72 L138.96 669.36 L139.74 668.02 L140.52 666.70 L141.30 665.40 L142.08 664.12 L142.86 662.86 L143.64 661.63 L144.42 660.41 L145.20 659.22 L145.98 658.06 L146.76 656.91 L147.54 655.79 L148.32 654.69 L149.10 653.61 L149.88 652.56 L150.66 651.53 L151.44 650.53 L152.22 649.55 L153.00 648.60 L153.78 647.67 L154.56 646.76 L155.34 645.89 L156.12 645.03 L156.90 644.21 L157.68 643.41 L158.47 642.64 L159.25 641.90 L160.03 641.19 L160.81 640.51 L161.59 639.85 L162.37 639.23 L163.15 638.64 L163.93 638.08 L164.71 637.56 L165.49 637.07 L166.27 636.62 L167.05 636.21 L167.83 635.83 L168.61 635.50 L169.39 635.20 L170.17 634.96 L170.95 634.75 L171.73 634.60 L172.51 634.51 L173.29 634.45 L174.07 634.45 L174.85 634.47 L175.63 634.52 L176.41 634.60 L177.19 634.69 L177.97 634.80 L178.75 634.93 L179.53 635.08 L180.31 635.24 L181.10 635.42 L181.88 635.61 L182.66 635.81 L183.44 636.03 L184.22 636.25 L185.00 636.47 L185.78 636.71 L186.56 636.94 L187.34 637.18 L188.12 637.42 L188.90 637.67 L189.68 637.91 L190.46 638.14 L191.24 638.38 L192.02 638.60 L192.80 638.82 L193.58 639.04 L194.36 639.24 L195.14 639.45 L195.92 639.66 L196.70 639.87 L197.48 640.09 L198.26 640.31 L199.04 640.54 L199.82 640.76 L200.60 640.99"/>
<path clip-path="url(#cp03)" d="M101.50 756.30 L102.28 754.05 L103.07 751.83 L103.85 749.62 L104.64 747.42 L105.42 745.25 L106.21 743.10 L106.99 740.96 L107.78 738.84 L108.56 736.74 L109.35 734.66 L110.13 732.60 L110.92 730.56 L111.70 728.54 L112.49 726.53 L113.27 724.55 L114.06 722.58 L114.84 720.64 L115.63 718.71 L116.41 716.80 L117.19 714.91 L117.98 713.04 L118.76 711.19 L119.55 709.36 L120.33 707.55 L121.12 705.76 L121.90 703.99 L122.69 702.24 L123.47 700.51 L124.26 698.80 L125.04 697.11 L125.83 695.44 L126.61 693.78 L127.40 692.16 L128.18 690.55 L128.97 688.96 L129.75 687.39 L130.53 685.84 L131.32 684.32 L132.10 682.81 L132.89 681.33 L133.67 679.86 L134.46 678.42 L135.24 677.00 L136.03 675.61 L136.81 674.23 L137.60 672.87 L138.38 671.54 L139.17 670.23 L139.95 668.94 L140.74 667.68 L141.52 666.43 L142.31 665.21 L143.09 664.01 L143.88 662.84 L144.66 661.69 L145.44 660.56 L146.23 659.45 L147.01 658.37 L147.80 657.32 L148.58 656.28 L149.37 655.27 L150.15 654.29 L150.94 653.33 L151.72 652.40 L152.51 651.49 L153.29 650.60 L154.08 649.74 L154.86 648.91 L155.65 648.11 L156.43 647.33 L157.22 646.58 L158.00 645.85 L158.79 645.16 L159.57 644.49 L160.35 643.85 L161.14 643.24 L161.92 642.66 L162.71 642.12 L163.49 641.60 L164.28 641.11 L165.06 640.66 L165.85 640.24 L166.63 639.86 L167.42 639.51 L168.20 639.21 L168.99 638.93 L169.77 638.70 L170.56 638.51 L171.34 638.36 L172.13 638.27 L172.91 638.21 L173.70 638.19 L174.48 638.22 L175.26 638.30 L176.05 638.41 L176.83 638.56 L177.62 638.74 L178.40 638.95 L179.19 639.18 L179.97 639.43 L180.76 639.69 L181.54 639.97 L182.33 640.26 L183.11 640.55 L183.90 640.85 L184.68 641.14 L185.47 641.43 L186.25 641.71 L187.04 641.97 L187.82 642.22 L188.60 642.45 L189.39 642.65 L190.17 642.85 L190.96 643.05 L191.74 643.25 L192.53 643.44 L193.31 643.63 L194.10 643.83 L194.88 644.01 L195.67 644.20 L196.45 644.39 L197.24 644.57 L198.02 644.76 L198.81 644.94 L199.59 645.12 L200.38 645.29 L201.16 645.47 L201.95 645.64 L202.73 645.82 L203.51 645.99 L204.30 646.15 L205.08 646.32 L205.87 646.48"/>
</g>
<path d="M484.64 34.00V180.50M546.58 34.00V180.50M608.52 34.00V180.50M670.46 34.00V180.50M422.70 143.88H701.43M422.70 107.25H701.43M422.70 70.62H701.43" stroke="#f3f3f3" stroke-width="1" fill="none"/>
<path d="M422.80 33.90H701.30" stroke="#a6a6a6" stroke-width="1" fill="none"/>
<path d="M701.30 33.90V180.30" stroke="#c4c4c4" stroke-width="1" fill="none"/>
<path d="M422.80 180.30H701.30" stroke="#b4b4b4" stroke-width="1" fill="none"/>
<path d="M422.80 33.90V180.30" stroke="#8c8c8c" stroke-width="1" fill="none"/>
<path d="M484.64 180.30v-2.5M484.64 33.90v2.5M546.58 180.30v-2.5M546.58 33.90v2.5M608.52 180.30v-2.5M608.52 33.90v2.5M670.46 180.30v-2.5M670.46 33.90v2.5M422.80 143.88h2.5M701.30 143.88h-2.5M422.80 107.25h2.5M701.30 107.25h-2.5M422.80 70.62h2.5M701.30 70.62h-2.5" stroke="#c8c8c8" stroke-width="1" fill="none"/>
<text class="tk" x="419.20" y="185.50" text-anchor="end">0</text>
<text class="tk" x="419.20" y="148.88" text-anchor="end">10</text>
<text class="tk" x="419.20" y="112.25" text-anchor="end">20</text>
<text class="tk" x="419.20" y="75.62" text-anchor="end">30</text>
<text class="tk" x="419.20" y="39.00" text-anchor="end">40</text>
<text class="tk" x="422.70" y="196.50" text-anchor="middle">0</text>
<text class="tk" x="484.64" y="196.50" text-anchor="middle">2</text>
<text class="tk" x="546.58" y="196.50" text-anchor="middle">4</text>
<text class="tk" x="608.52" y="196.50" text-anchor="middle">6</text>
<text class="tk" x="670.46" y="196.50" text-anchor="middle">8</text>
<text class="al" x="561.97" y="212.70" text-anchor="middle" textLength="61.6" lengthAdjust="spacingAndGlyphs">Strain (%)</text>
<text class="al" transform="translate(401.80,107.25) rotate(-90)" x="0" y="0" text-anchor="middle" textLength="81.5" lengthAdjust="spacingAndGlyphs">Stress (MPa)</text>
<text class="lt" x="433.20" y="55.80">b</text>
<g fill="none" stroke="#000" stroke-width="2" stroke-linejoin="round" stroke-linecap="round"><clipPath id="cp10"><rect x="420.7" y="32.0" width="280.73" height="150.5"/></clipPath>
<path clip-path="url(#cp10)" d="M422.70 180.50 L424.50 176.32 L426.31 172.16 L428.11 168.03 L429.91 163.93 L431.71 159.85 L433.52 155.80 L435.32 151.78 L437.12 147.79 L438.92 143.83 L440.73 139.90 L442.53 136.00 L444.33 132.14 L446.13 128.31 L447.94 124.51 L449.74 120.75 L451.54 117.03 L453.34 113.35 L455.15 109.71 L456.95 106.11 L458.75 102.55 L460.55 99.04 L462.36 95.58 L464.16 92.17 L465.96 88.82 L467.77 85.53 L469.57 82.30 L471.37 79.13 L473.17 76.04 L474.98 73.04 L476.78 70.13 L478.58 67.32 L480.38 64.63 L482.19 62.08 L483.99 59.71 L485.79 57.56 L487.59 55.70 L489.40 54.22 L491.20 53.24 L493.00 52.90 L494.04 53.02 L495.09 53.23 L496.13 53.50 L497.17 53.82 L498.21 54.18 L499.26 54.56 L500.30 54.96 L501.34 55.36 L502.38 55.77 L503.42 56.18 L504.47 56.57 L505.51 56.96 L506.55 57.34 L507.59 57.70 L508.64 58.05 L509.68 58.39 L510.72 58.71 L511.76 59.01 L512.80 59.30 L513.85 59.58 L514.89 59.84 L515.93 60.09 L516.97 60.32 L518.01 60.55 L519.06 60.76 L520.10 60.96 L521.14 61.15 L522.18 61.33 L523.23 61.50 L524.27 61.67 L525.31 61.82 L526.35 61.97 L527.39 62.11 L528.44 62.25 L529.48 62.38 L530.52 62.50 L531.56 62.62 L532.61 62.73 L533.65 62.84 L534.69 62.95 L535.73 63.05 L536.77 63.15 L537.82 63.25 L538.86 63.35 L539.90 63.44 L540.94 63.53 L541.99 63.62 L543.03 63.70 L544.07 63.79 L545.11 63.87 L546.15 63.95 L547.20 64.04 L548.24 64.11 L549.28 64.19 L550.32 64.27 L551.37 64.35 L552.41 64.42 L553.45 64.50 L554.49 64.57 L555.53 64.65 L556.58 64.72 L557.62 64.79 L558.66 64.87 L559.70 64.94 L560.75 65.01 L561.79 65.08 L562.83 65.16 L563.87 65.23 L564.91 65.30 L565.96 65.37 L567.00 65.44 L568.04 65.51 L569.08 65.58 L570.13 65.65 L571.17 65.72 L572.21 65.79 L573.25 65.86 L574.29 65.93 L575.34 66.00 L576.38 66.07 L577.42 66.14 L578.46 66.21 L579.51 66.28 L580.55 66.35 L581.59 66.42 L582.63 66.49 L583.67 66.56 L584.72 66.62 L585.76 66.69 L586.80 66.76 L587.84 66.83 L588.89 66.90 L589.93 66.97 L590.97 67.04 L592.01 67.11 L593.05 67.18 L594.10 67.25 L595.14 67.32 L596.18 67.39 L597.22 67.45 L598.26 67.52 L599.31 67.59 L600.35 67.66 L601.39 67.73 L602.43 67.80 L603.48 67.87 L604.52 67.94 L605.56 68.01 L606.60 68.08 L607.64 68.15 L608.69 68.21 L609.73 68.28 L610.77 68.35 L611.81 68.42 L612.86 68.49"/>
<path clip-path="url(#cp10)" d="M422.70 180.50 L424.50 175.94 L426.31 171.43 L428.11 166.96 L429.91 162.54 L431.71 158.17 L433.52 153.85 L435.32 149.59 L437.12 145.37 L438.92 141.20 L440.73 137.09 L442.53 133.04 L444.33 129.04 L446.13 125.10 L447.94 121.22 L449.74 117.40 L451.54 113.64 L453.34 109.95 L455.15 106.32 L456.95 102.76 L458.75 99.27 L460.55 95.86 L462.36 92.52 L464.16 89.26 L465.96 86.09 L467.77 83.00 L469.57 80.00 L471.37 77.10 L473.17 74.30 L474.98 71.61 L476.78 69.04 L478.58 66.60 L480.38 64.30 L482.19 62.17 L483.99 60.21 L485.79 58.48 L487.59 57.01 L489.40 55.87 L491.20 55.13 L493.00 54.88 L494.06 55.01 L495.11 55.21 L496.17 55.48 L497.23 55.80 L498.28 56.14 L499.34 56.51 L500.39 56.89 L501.45 57.27 L502.50 57.66 L503.56 58.04 L504.62 58.42 L505.67 58.79 L506.73 59.14 L507.78 59.49 L508.84 59.82 L509.89 60.14 L510.95 60.45 L512.01 60.74 L513.06 61.02 L514.12 61.29 L515.17 61.54 L516.23 61.78 L517.29 62.01 L518.34 62.23 L519.40 62.44 L520.45 62.64 L521.51 62.83 L522.56 63.01 L523.62 63.18 L524.68 63.34 L525.73 63.50 L526.79 63.65 L527.84 63.80 L528.90 63.94 L529.95 64.08 L531.01 64.21 L532.07 64.33 L533.12 64.46 L534.18 64.58 L535.23 64.69 L536.29 64.81 L537.35 64.92 L538.40 65.02 L539.46 65.13 L540.51 65.23 L541.57 65.33 L542.62 65.43 L543.68 65.53 L544.74 65.63 L545.79 65.73 L546.85 65.82 L547.90 65.91 L548.96 66.01 L550.01 66.10 L551.07 66.19 L552.13 66.28 L553.18 66.37 L554.24 66.46 L555.29 66.55 L556.35 66.63 L557.41 66.72 L558.46 66.81 L559.52 66.89 L560.57 66.98 L561.63 67.07 L562.68 67.15 L563.74 67.24 L564.80 67.32 L565.85 67.41 L566.91 67.49 L567.96 67.58 L569.02 67.66 L570.07 67.75 L571.13 67.83 L572.19 67.92 L573.24 68.00 L574.30 68.09 L575.35 68.17 L576.41 68.26 L577.47 68.34 L578.52 68.42 L579.58 68.51 L580.63 68.59 L581.69 68.68 L582.74 68.76 L583.80 68.84 L584.86 68.93 L585.91 69.01"/>
<path clip-path="url(#cp10)" d="M422.70 180.50 L424.52 175.78 L426.34 171.11 L428.16 166.51 L429.97 161.96 L431.79 157.47 L433.61 153.05 L435.43 148.68 L437.25 144.38 L439.07 140.14 L440.88 135.97 L442.70 131.86 L444.52 127.82 L446.34 123.85 L448.16 119.95 L449.98 116.12 L451.80 112.37 L453.61 108.69 L455.43 105.09 L457.25 101.57 L459.07 98.13 L460.89 94.78 L462.71 91.52 L464.53 88.34 L466.34 85.26 L468.16 82.28 L469.98 79.40 L471.80 76.63 L473.62 73.97 L475.44 71.43 L477.25 69.02 L479.07 66.75 L480.89 64.63 L482.71 62.67 L484.53 60.90 L486.35 59.34 L488.17 58.03 L489.98 57.03 L491.80 56.38 L493.62 56.16 L494.68 56.29 L495.74 56.50 L496.79 56.76 L497.85 57.06 L498.91 57.40 L499.96 57.75 L501.02 58.11 L502.08 58.48 L503.13 58.85 L504.19 59.21 L505.25 59.57 L506.30 59.91 L507.36 60.25 L508.42 60.57 L509.47 60.89 L510.53 61.18 L511.59 61.47 L512.64 61.74 L513.70 62.00 L514.76 62.25 L515.82 62.48 L516.87 62.71 L517.93 62.92 L518.99 63.13 L520.04 63.32 L521.10 63.51 L522.16 63.68 L523.21 63.85 L524.27 64.02 L525.33 64.17 L526.38 64.32 L527.44 64.47 L528.50 64.61 L529.55 64.74 L530.61 64.87 L531.67 65.00 L532.72 65.12 L533.78 65.24 L534.84 65.35 L535.90 65.47 L536.95 65.58 L538.01 65.69 L539.07 65.79 L540.12 65.90 L541.18 66.00 L542.24 66.10 L543.29 66.20 L544.35 66.30 L545.41 66.40 L546.46 66.50 L547.52 66.59 L548.58 66.69 L549.63 66.78 L550.69 66.87 L551.75 66.97 L552.80 67.06 L553.86 67.15 L554.92 67.24 L555.98 67.33 L557.03 67.42 L558.09 67.51 L559.15 67.60 L560.20 67.69 L561.26 67.78 L562.32 67.87 L563.37 67.96 L564.43 68.05 L565.49 68.14 L566.54 68.23 L567.60 68.32 L568.66 68.41 L569.71 68.49 L570.77 68.58 L571.83 68.67 L572.89 68.76 L573.94 68.85 L575.00 68.93 L576.06 69.02 L577.11 69.11 L578.17 69.20"/>
<path clip-path="url(#cp10)" d="M422.70 180.50 L424.53 175.52 L426.37 170.61 L428.20 165.78 L430.04 161.03 L431.87 156.35 L433.71 151.76 L435.54 147.24 L437.38 142.81 L439.21 138.45 L441.04 134.18 L442.88 130.00 L444.71 125.90 L446.55 121.89 L448.38 117.96 L450.22 114.13 L452.05 110.39 L453.88 106.75 L455.72 103.19 L457.55 99.74 L459.39 96.39 L461.22 93.14 L463.06 89.99 L464.89 86.95 L466.73 84.03 L468.56 81.21 L470.39 78.52 L472.23 75.95 L474.06 73.50 L475.90 71.19 L477.73 69.01 L479.57 66.99 L481.40 65.12 L483.23 63.42 L485.07 61.90 L486.90 60.59 L488.74 59.51 L490.57 58.69 L492.41 58.17 L494.24 57.99 L495.29 58.12 L496.34 58.31 L497.39 58.53 L498.43 58.78 L499.48 59.05 L500.53 59.34 L501.58 59.63 L502.63 59.92 L503.67 60.20 L504.72 60.49 L505.77 60.77 L506.82 61.04 L507.87 61.30 L508.92 61.55 L509.96 61.79 L511.01 62.03 L512.06 62.25 L513.11 62.46 L514.16 62.67 L515.21 62.87 L516.25 63.06 L517.30 63.24 L518.35 63.41 L519.40 63.58 L520.45 63.74 L521.49 63.90 L522.54 64.05 L523.59 64.20 L524.64 64.34 L525.69 64.47 L526.74 64.61 L527.78 64.74 L528.83 64.87 L529.88 64.99 L530.93 65.11 L531.98 65.23 L533.02 65.35 L534.07 65.47 L535.12 65.58 L536.17 65.69 L537.22 65.80 L538.27 65.91 L539.31 66.02 L540.36 66.13 L541.41 66.24 L542.46 66.34 L543.51 66.45 L544.56 66.55 L545.60 66.66 L546.65 66.76 L547.70 66.86 L548.75 66.96 L549.80 67.07 L550.84 67.17 L551.89 67.27 L552.94 67.37 L553.99 67.47 L555.04 67.57 L556.09 67.67 L557.13 67.77 L558.18 67.88 L559.23 67.98 L560.28 68.08 L561.33 68.18 L562.37 68.28 L563.42 68.38 L564.47 68.47 L565.52 68.57 L566.57 68.67 L567.62 68.77 L568.66 68.87 L569.71 68.97 L570.76 69.07 L571.81 69.17 L572.86 69.27 L573.91 69.37 L574.95 69.47 L576.00 69.57"/>
</g>
<path d="M484.64 226.60V372.40M546.58 226.60V372.40M608.52 226.60V372.40M670.46 226.60V372.40M422.70 335.95H701.43M422.70 299.50H701.43M422.70 263.05H701.43" stroke="#f3f3f3" stroke-width="1" fill="none"/>
<path d="M422.80 226.40H701.30" stroke="#a6a6a6" stroke-width="1" fill="none"/>
<path d="M701.30 226.40V372.30" stroke="#c4c4c4" stroke-width="1" fill="none"/>
<path d="M422.80 372.30H701.30" stroke="#b4b4b4" stroke-width="1" fill="none"/>
<path d="M422.80 226.40V372.30" stroke="#8c8c8c" stroke-width="1" fill="none"/>
<path d="M484.64 372.30v-2.5M484.64 226.40v2.5M546.58 372.30v-2.5M546.58 226.40v2.5M608.52 372.30v-2.5M608.52 226.40v2.5M670.46 372.30v-2.5M670.46 226.40v2.5M422.80 335.95h2.5M701.30 335.95h-2.5M422.80 299.50h2.5M701.30 299.50h-2.5M422.80 263.05h2.5M701.30 263.05h-2.5" stroke="#c8c8c8" stroke-width="1" fill="none"/>
<text class="tk" x="419.20" y="377.40" text-anchor="end">0</text>
<text class="tk" x="419.20" y="340.95" text-anchor="end">10</text>
<text class="tk" x="419.20" y="304.50" text-anchor="end">20</text>
<text class="tk" x="419.20" y="268.05" text-anchor="end">30</text>
<text class="tk" x="419.20" y="231.60" text-anchor="end">40</text>
<text class="tk" x="422.70" y="388.40" text-anchor="middle">0</text>
<text class="tk" x="484.64" y="388.40" text-anchor="middle">2</text>
<text class="tk" x="546.58" y="388.40" text-anchor="middle">4</text>
<text class="tk" x="608.52" y="388.40" text-anchor="middle">6</text>
<text class="tk" x="670.46" y="388.40" text-anchor="middle">8</text>
<text class="al" x="561.97" y="404.60" text-anchor="middle" textLength="61.6" lengthAdjust="spacingAndGlyphs">Strain (%)</text>
<text class="al" transform="translate(401.80,299.50) rotate(-90)" x="0" y="0" text-anchor="middle" textLength="81.5" lengthAdjust="spacingAndGlyphs">Stress (MPa)</text>
<text class="lt" x="433.50" y="248.70">d</text>
<g fill="none" stroke="#000" stroke-width="2" stroke-linejoin="round" stroke-linecap="round"><clipPath id="cp11"><rect x="420.7" y="224.6" width="280.73" height="149.79999999999998"/></clipPath>
<path clip-path="url(#cp11)" d="M422.70 372.40 L424.53 367.78 L426.36 363.20 L428.18 358.64 L430.01 354.11 L431.84 349.62 L433.67 345.16 L435.50 340.73 L437.32 336.33 L439.15 331.97 L440.98 327.64 L442.81 323.36 L444.64 319.10 L446.46 314.89 L448.29 310.72 L450.12 306.59 L451.95 302.51 L453.78 298.47 L455.60 294.47 L457.43 290.52 L459.26 286.63 L461.09 282.79 L462.92 279.00 L464.74 275.28 L466.57 271.61 L468.40 268.02 L470.23 264.49 L472.06 261.04 L473.88 257.68 L475.71 254.41 L477.54 251.24 L479.37 248.19 L481.20 245.28 L483.02 242.52 L484.85 239.96 L486.68 237.63 L488.51 235.63 L490.34 234.03 L492.16 232.98 L493.99 232.61 L495.03 232.75 L496.08 233.02 L497.12 233.41 L498.16 233.88 L499.20 234.41 L500.24 234.99 L501.28 235.60 L502.33 236.22 L503.37 236.86 L504.41 237.49 L505.45 238.12 L506.49 238.73 L507.53 239.33 L508.57 239.91 L509.62 240.47 L510.66 241.01 L511.70 241.52 L512.74 242.01 L513.78 242.47 L514.82 242.91 L515.87 243.33 L516.91 243.72 L517.95 244.10 L518.99 244.45 L520.03 244.78 L521.07 245.09 L522.11 245.38 L523.16 245.65 L524.20 245.91 L525.24 246.15 L526.28 246.38 L527.32 246.59 L528.36 246.80 L529.41 246.98 L530.45 247.16 L531.49 247.33 L532.53 247.49 L533.57 247.64 L534.61 247.78 L535.65 247.91 L536.70 248.04 L537.74 248.16 L538.78 248.27 L539.82 248.38 L540.86 248.48 L541.90 248.58 L542.95 248.68 L543.99 248.77 L545.03 248.85 L546.07 248.94 L547.11 249.02 L548.15 249.09 L549.19 249.17 L550.24 249.24 L551.28 249.31 L552.32 249.38 L553.36 249.45 L554.40 249.51 L555.44 249.58 L556.49 249.64 L557.53 249.70 L558.57 249.76 L559.61 249.82 L560.65 249.88 L561.69 249.94 L562.73 249.99 L563.78 250.05 L564.82 250.10 L565.86 250.16 L566.90 250.21 L567.94 250.27 L568.98 250.32 L570.03 250.37 L571.07 250.43 L572.11 250.48 L573.15 250.53 L574.19 250.58 L575.23 250.63 L576.27 250.68 L577.32 250.73 L578.36 250.79 L579.40 250.84 L580.44 250.89 L581.48 250.94 L582.52 250.99 L583.57 251.04 L584.61 251.09 L585.65 251.14 L586.69 251.19 L587.73 251.24 L588.77 251.29 L589.82 251.34 L590.86 251.39 L591.90 251.43 L592.94 251.48 L593.98 251.53 L595.02 251.58 L596.06 251.63 L597.11 251.68 L598.15 251.73 L599.19 251.78 L600.23 251.83 L601.27 251.88 L602.31 251.93 L603.36 251.98 L604.40 252.03 L605.44 252.08 L606.48 252.12 L607.52 252.17 L608.56 252.22 L609.60 252.27 L610.65 252.32 L611.69 252.37 L612.73 252.42 L613.77 252.47 L614.81 252.52 L615.85 252.57 L616.90 252.62 L617.94 252.66 L618.98 252.71 L620.02 252.76 L621.06 252.81 L622.10 252.86 L623.14 252.91 L624.19 252.96 L625.23 253.01 L626.27 253.06 L627.31 253.11 L628.35 253.15 L629.39 253.20 L630.44 253.25 L631.48 253.30 L632.52 253.35 L633.56 253.40 L634.60 253.45 L635.64 253.50 L636.68 253.55 L637.73 253.60 L638.77 253.65 L639.81 253.69 L640.85 253.74 L641.89 253.79 L642.93 253.84 L643.98 253.89 L645.02 253.94 L646.06 253.99 L647.10 254.04 L648.14 254.09 L649.18 254.14 L650.22 254.18 L651.27 254.23 L652.31 254.28 L653.35 254.33 L654.39 254.38 L655.43 254.43 L656.47 254.48 L657.52 254.53 L658.56 254.58 L659.60 254.63 L660.64 254.68 L661.68 254.72 L662.72 254.77 L663.76 254.82 L664.81 254.87 L665.85 254.92 L666.89 254.97 L667.93 255.02 L668.97 255.07 L670.01 255.12 L671.06 255.17 L672.10 255.21 L673.14 255.26 L674.18 255.31 L675.22 255.36 L676.26 255.41 L677.30 255.46 L678.35 255.51 L679.39 255.56 L680.43 255.61 L681.47 255.66 L682.51 255.70 L683.55 255.75 L684.60 255.80 L685.64 255.85 L686.68 255.90 L687.72 255.95 L688.76 256.00 L689.80 256.05 L690.84 256.10 L691.89 256.15 L692.93 256.20 L693.97 256.24 L695.01 256.29 L696.05 256.34 L697.09 256.39"/>
<path clip-path="url(#cp11)" d="M422.70 372.40 L424.55 367.21 L426.40 362.08 L428.25 357.02 L430.10 352.01 L431.95 347.07 L433.80 342.19 L435.65 337.38 L437.50 332.63 L439.35 327.95 L441.20 323.34 L443.05 318.80 L444.90 314.33 L446.75 309.93 L448.60 305.61 L450.45 301.36 L452.30 297.20 L454.15 293.11 L456.00 289.11 L457.85 285.19 L459.71 281.36 L461.56 277.63 L463.41 273.98 L465.26 270.43 L467.11 266.99 L468.96 263.65 L470.81 260.42 L472.66 257.30 L474.51 254.31 L476.36 251.45 L478.21 248.73 L480.06 246.15 L481.91 243.75 L483.76 241.52 L485.61 239.51 L487.46 237.73 L489.31 236.23 L491.16 235.07 L493.01 234.33 L494.86 234.07 L495.91 234.20 L496.95 234.46 L498.00 234.83 L499.05 235.28 L500.10 235.79 L501.14 236.34 L502.19 236.92 L503.24 237.51 L504.28 238.11 L505.33 238.71 L506.38 239.31 L507.43 239.89 L508.47 240.46 L509.52 241.00 L510.57 241.53 L511.61 242.04 L512.66 242.52 L513.71 242.99 L514.75 243.43 L515.80 243.84 L516.85 244.24 L517.90 244.61 L518.94 244.96 L519.99 245.29 L521.04 245.60 L522.08 245.90 L523.13 246.18 L524.18 246.44 L525.23 246.68 L526.27 246.91 L527.32 247.13 L528.37 247.33 L529.41 247.52 L530.46 247.70 L531.51 247.87 L532.56 248.03 L533.60 248.18 L534.65 248.33 L535.70 248.46 L536.74 248.59 L537.79 248.71 L538.84 248.83 L539.88 248.94 L540.93 249.04 L541.98 249.14 L543.03 249.24 L544.07 249.33 L545.12 249.42 L546.17 249.51 L547.21 249.59 L548.26 249.67 L549.31 249.74 L550.36 249.82 L551.40 249.89 L552.45 249.96 L553.50 250.03 L554.54 250.10 L555.59 250.16 L556.64 250.23 L557.68 250.29 L558.73 250.35 L559.78 250.41 L560.83 250.47 L561.87 250.53 L562.92 250.59 L563.97 250.65 L565.01 250.70 L566.06 250.76 L567.11 250.81 L568.16 250.87 L569.20 250.92 L570.25 250.98 L571.30 251.03 L572.34 251.09 L573.39 251.14 L574.44 251.19 L575.49 251.25 L576.53 251.30 L577.58 251.35 L578.63 251.40 L579.67 251.45 L580.72 251.51 L581.77 251.56 L582.81 251.61"/>
<path clip-path="url(#cp11)" d="M422.70 372.40 L424.59 366.81 L426.48 361.30 L428.37 355.88 L430.26 350.56 L432.15 345.32 L434.04 340.17 L435.93 335.12 L437.82 330.16 L439.71 325.30 L441.60 320.53 L443.49 315.86 L445.38 311.29 L447.27 306.82 L449.16 302.45 L451.05 298.19 L452.94 294.03 L454.83 289.98 L456.72 286.04 L458.61 282.21 L460.50 278.50 L462.39 274.90 L464.28 271.43 L466.17 268.07 L468.06 264.85 L469.95 261.75 L471.84 258.79 L473.73 255.96 L475.62 253.28 L477.51 250.75 L479.40 248.38 L481.29 246.17 L483.18 244.14 L485.07 242.29 L486.96 240.65 L488.85 239.23 L490.74 238.07 L492.63 237.19 L494.52 236.63 L496.41 236.44 L497.46 236.55 L498.50 236.77 L499.55 237.07 L500.60 237.43 L501.64 237.85 L502.69 238.30 L503.74 238.77 L504.78 239.27 L505.83 239.77 L506.88 240.27 L507.92 240.77 L508.97 241.27 L510.02 241.75 L511.06 242.22 L512.11 242.68 L513.16 243.12 L514.20 243.55 L515.25 243.96 L516.30 244.35 L517.34 244.72 L518.39 245.08 L519.44 245.42 L520.48 245.74 L521.53 246.05 L522.58 246.34 L523.62 246.61 L524.67 246.87 L525.72 247.12 L526.76 247.35 L527.81 247.58 L528.86 247.78 L529.90 247.98 L530.95 248.17 L532.00 248.35 L533.04 248.51 L534.09 248.67 L535.14 248.82 L536.18 248.97 L537.23 249.10 L538.28 249.23 L539.32 249.36 L540.37 249.48 L541.42 249.59 L542.46 249.70 L543.51 249.80 L544.56 249.90 L545.60 249.99 L546.65 250.08 L547.70 250.17 L548.74 250.26 L549.79 250.34 L550.84 250.42 L551.88 250.50 L552.93 250.57 L553.98 250.65 L555.02 250.72 L556.07 250.79 L557.12 250.85 L558.16 250.92 L559.21 250.98 L560.26 251.05 L561.30 251.11 L562.35 251.17 L563.40 251.23 L564.44 251.29 L565.49 251.35 L566.54 251.41 L567.58 251.47 L568.63 251.52 L569.68 251.58 L570.72 251.64 L571.77 251.69 L572.82 251.75 L573.86 251.80 L574.91 251.86 L575.96 251.91 L577.01 251.96 L578.05 252.02 L579.10 252.07"/>
</g>
<path d="M484.64 419.00V564.30M546.58 419.00V564.30M608.52 419.00V564.30M670.46 419.00V564.30M422.70 527.97H701.43M422.70 491.65H701.43M422.70 455.32H701.43" stroke="#f3f3f3" stroke-width="1" fill="none"/>
<path d="M422.80 418.90H701.30" stroke="#a6a6a6" stroke-width="1" fill="none"/>
<path d="M701.30 418.90V564.30" stroke="#c4c4c4" stroke-width="1" fill="none"/>
<path d="M422.80 564.30H701.30" stroke="#b4b4b4" stroke-width="1" fill="none"/>
<path d="M422.80 418.90V564.30" stroke="#8c8c8c" stroke-width="1" fill="none"/>
<path d="M484.64 564.30v-2.5M484.64 418.90v2.5M546.58 564.30v-2.5M546.58 418.90v2.5M608.52 564.30v-2.5M608.52 418.90v2.5M670.46 564.30v-2.5M670.46 418.90v2.5M422.80 527.97h2.5M701.30 527.97h-2.5M422.80 491.65h2.5M701.30 491.65h-2.5M422.80 455.32h2.5M701.30 455.32h-2.5" stroke="#c8c8c8" stroke-width="1" fill="none"/>
<text class="tk" x="419.20" y="569.30" text-anchor="end">0</text>
<text class="tk" x="419.20" y="532.97" text-anchor="end">10</text>
<text class="tk" x="419.20" y="496.65" text-anchor="end">20</text>
<text class="tk" x="419.20" y="460.32" text-anchor="end">30</text>
<text class="tk" x="419.20" y="424.00" text-anchor="end">40</text>
<text class="tk" x="422.70" y="580.30" text-anchor="middle">0</text>
<text class="tk" x="484.64" y="580.30" text-anchor="middle">2</text>
<text class="tk" x="546.58" y="580.30" text-anchor="middle">4</text>
<text class="tk" x="608.52" y="580.30" text-anchor="middle">6</text>
<text class="tk" x="670.46" y="580.30" text-anchor="middle">8</text>
<text class="al" x="561.97" y="596.50" text-anchor="middle" textLength="61.6" lengthAdjust="spacingAndGlyphs">Strain (%)</text>
<text class="al" transform="translate(401.80,491.65) rotate(-90)" x="0" y="0" text-anchor="middle" textLength="81.5" lengthAdjust="spacingAndGlyphs">Stress (MPa)</text>
<text class="lt" x="434.40" y="442.90">f</text>
<g fill="none" stroke="#000" stroke-width="2" stroke-linejoin="round" stroke-linecap="round"><clipPath id="cp12"><rect x="420.7" y="417.0" width="280.73" height="149.29999999999995"/></clipPath>
<path clip-path="url(#cp12)" d="M422.70 564.30 L424.53 560.37 L426.35 556.38 L428.18 552.32 L430.01 548.21 L431.83 544.05 L433.66 539.86 L435.49 535.65 L437.31 531.42 L439.14 527.19 L440.96 522.96 L442.79 518.74 L444.62 514.54 L446.44 510.38 L448.27 506.25 L450.10 502.17 L451.92 498.15 L453.75 494.20 L455.58 490.33 L457.40 486.54 L459.23 482.85 L461.06 479.26 L462.88 475.78 L464.71 472.43 L466.53 469.21 L468.36 466.13 L470.19 463.20 L472.01 460.43 L473.84 457.82 L475.67 455.40 L477.49 453.16 L479.32 451.12 L481.15 449.29 L482.97 447.67 L484.80 446.27 L486.63 445.11 L488.45 444.19 L490.28 443.52 L492.10 443.11 L493.93 442.97 L494.97 443.05 L496.02 443.17 L497.06 443.33 L498.10 443.52 L499.14 443.74 L500.19 443.98 L501.23 444.23 L502.27 444.49 L503.31 444.75 L504.36 445.02 L505.40 445.29 L506.44 445.56 L507.48 445.82 L508.52 446.09 L509.57 446.34 L510.61 446.59 L511.65 446.84 L512.69 447.07 L513.74 447.30 L514.78 447.52 L515.82 447.74 L516.86 447.94 L517.91 448.14 L518.95 448.33 L519.99 448.51 L521.03 448.69 L522.08 448.86 L523.12 449.02 L524.16 449.17 L525.20 449.32 L526.25 449.46 L527.29 449.59 L528.33 449.72 L529.37 449.85 L530.42 449.97 L531.46 450.08 L532.50 450.19 L533.54 450.30 L534.58 450.40 L535.63 450.50 L536.67 450.59 L537.71 450.69 L538.75 450.77 L539.80 450.86 L540.84 450.94 L541.88 451.02 L542.92 451.10 L543.97 451.17 L545.01 451.25 L546.05 451.32 L547.09 451.39 L548.14 451.46 L549.18 451.52 L550.22 451.59 L551.26 451.65 L552.31 451.71 L553.35 451.77 L554.39 451.83 L555.43 451.89 L556.48 451.95 L557.52 452.01 L558.56 452.06 L559.60 452.12 L560.64 452.17 L561.69 452.23 L562.73 452.28 L563.77 452.33 L564.81 452.39 L565.86 452.44 L566.90 452.49 L567.94 452.54 L568.98 452.59 L570.03 452.64 L571.07 452.69 L572.11 452.74 L573.15 452.79 L574.20 452.84 L575.24 452.89 L576.28 452.94 L577.32 452.99 L578.37 453.04 L579.41 453.08 L580.45 453.13 L581.49 453.18 L582.54 453.23 L583.58 453.28 L584.62 453.32 L585.66 453.37 L586.71 453.42 L587.75 453.47 L588.79 453.51 L589.83 453.56 L590.87 453.61 L591.92 453.65 L592.96 453.70 L594.00 453.75 L595.04 453.80 L596.09 453.84 L597.13 453.89 L598.17 453.94 L599.21 453.98 L600.26 454.03 L601.30 454.08 L602.34 454.12 L603.38 454.17 L604.43 454.22 L605.47 454.26 L606.51 454.31 L607.55 454.36 L608.60 454.40 L609.64 454.45 L610.68 454.50 L611.72 454.54 L612.77 454.59 L613.81 454.64 L614.85 454.68 L615.89 454.73 L616.93 454.78 L617.98 454.82 L619.02 454.87 L620.06 454.92 L621.10 454.96 L622.15 455.01 L623.19 455.06 L624.23 455.10 L625.27 455.15 L626.32 455.20 L627.36 455.24 L628.40 455.29 L629.44 455.33 L630.49 455.38 L631.53 455.43 L632.57 455.47 L633.61 455.52 L634.66 455.57 L635.70 455.61 L636.74 455.66 L637.78 455.71 L638.83 455.75 L639.87 455.80 L640.91 455.85 L641.95 455.89 L642.99 455.94 L644.04 455.99 L645.08 456.03 L646.12 456.08 L647.16 456.12 L648.21 456.17 L649.25 456.22 L650.29 456.26 L651.33 456.31 L652.38 456.36 L653.42 456.40 L654.46 456.45 L655.50 456.50 L656.55 456.54 L657.59 456.59 L658.63 456.64 L659.67 456.68 L660.72 456.73 L661.76 456.78 L662.80 456.82 L663.84 456.87 L664.89 456.91 L665.93 456.96 L666.97 457.01 L668.01 457.05 L669.06 457.10 L670.10 457.15 L671.14 457.19 L672.18 457.24 L673.22 457.29 L674.27 457.33 L675.31 457.38 L676.35 457.43 L677.39 457.47 L678.44 457.52 L679.48 457.57 L680.52 457.61 L681.56 457.66 L682.61 457.70 L683.65 457.75 L684.69 457.80 L685.73 457.84 L686.78 457.89 L687.82 457.94 L688.86 457.98 L689.90 458.03 L690.95 458.08 L691.99 458.12 L693.03 458.17 L694.07 458.22 L695.12 458.26 L696.16 458.31 L697.20 458.35 L698.24 458.40 L699.28 458.45 L700.33 458.49 L701.37 458.54 L702.41 458.59 L703.45 458.63 L704.50 458.68 L705.54 458.73 L706.58 458.77 L707.62 458.82"/>
<path clip-path="url(#cp12)" d="M422.70 564.30 L424.52 560.19 L426.34 556.03 L428.16 551.83 L429.97 547.60 L431.79 543.35 L433.61 539.08 L435.43 534.80 L437.25 530.53 L439.07 526.26 L440.88 522.01 L442.70 517.79 L444.52 513.60 L446.34 509.45 L448.16 505.35 L449.98 501.32 L451.80 497.35 L453.61 493.45 L455.43 489.64 L457.25 485.92 L459.07 482.31 L460.89 478.80 L462.71 475.41 L464.53 472.14 L466.34 469.01 L468.16 466.02 L469.98 463.18 L471.80 460.49 L473.62 457.98 L475.44 455.64 L477.25 453.48 L479.07 451.52 L480.89 449.75 L482.71 448.20 L484.53 446.86 L486.35 445.74 L488.17 444.86 L489.98 444.22 L491.80 443.83 L493.62 443.70 L494.66 443.77 L495.70 443.89 L496.74 444.05 L497.78 444.24 L498.82 444.45 L499.86 444.68 L500.90 444.93 L501.94 445.18 L502.98 445.44 L504.02 445.71 L505.07 445.97 L506.11 446.23 L507.15 446.49 L508.19 446.75 L509.23 447.00 L510.27 447.25 L511.31 447.49 L512.35 447.72 L513.39 447.94 L514.43 448.16 L515.47 448.37 L516.51 448.57 L517.55 448.76 L518.59 448.95 L519.63 449.13 L520.67 449.30 L521.71 449.47 L522.75 449.62 L523.79 449.78 L524.83 449.92 L525.87 450.06 L526.91 450.19 L527.95 450.32 L528.99 450.45 L530.03 450.56 L531.07 450.68 L532.11 450.79 L533.16 450.89 L534.20 450.99 L535.24 451.09 L536.28 451.18 L537.32 451.27 L538.36 451.36 L539.40 451.44 L540.44 451.53 L541.48 451.60 L542.52 451.68 L543.56 451.76 L544.60 451.83 L545.64 451.90 L546.68 451.97 L547.72 452.04 L548.76 452.10 L549.80 452.17 L550.84 452.23 L551.88 452.29 L552.92 452.35 L553.96 452.41 L555.00 452.47 L556.04 452.53 L557.08 452.58 L558.12 452.64 L559.16 452.69 L560.20 452.75 L561.25 452.80 L562.29 452.86 L563.33 452.91 L564.37 452.96 L565.41 453.01 L566.45 453.06 L567.49 453.12 L568.53 453.17 L569.57 453.22 L570.61 453.27 L571.65 453.32 L572.69 453.37 L573.73 453.41 L574.77 453.46 L575.81 453.51 L576.85 453.56 L577.89 453.61 L578.93 453.66 L579.97 453.71 L581.01 453.75 L582.05 453.80 L583.09 453.85 L584.13 453.90 L585.17 453.94 L586.21 453.99 L587.25 454.04 L588.29 454.09 L589.34 454.13 L590.38 454.18 L591.42 454.23 L592.46 454.27 L593.50 454.32 L594.54 454.37 L595.58 454.42 L596.62 454.46 L597.66 454.51 L598.70 454.56 L599.74 454.60 L600.78 454.65 L601.82 454.70 L602.86 454.74 L603.90 454.79 L604.94 454.84 L605.98 454.88 L607.02 454.93 L608.06 454.98 L609.10 455.02 L610.14 455.07 L611.18 455.11 L612.22 455.16 L613.26 455.21 L614.30 455.25 L615.34 455.30 L616.38 455.35 L617.43 455.39 L618.47 455.44 L619.51 455.49 L620.55 455.53 L621.59 455.58 L622.63 455.63 L623.67 455.67 L624.71 455.72 L625.75 455.76 L626.79 455.81 L627.83 455.86 L628.87 455.90 L629.91 455.95 L630.95 456.00 L631.99 456.04 L633.03 456.09 L634.07 456.14 L635.11 456.18 L636.15 456.23 L637.19 456.28 L638.23 456.32 L639.27 456.37 L640.31 456.41 L641.35 456.46 L642.39 456.51 L643.43 456.55 L644.47 456.60 L645.52 456.65 L646.56 456.69 L647.60 456.74 L648.64 456.79 L649.68 456.83 L650.72 456.88 L651.76 456.92 L652.80 456.97 L653.84 457.02 L654.88 457.06 L655.92 457.11 L656.96 457.16 L658.00 457.20 L659.04 457.25 L660.08 457.30 L661.12 457.34 L662.16 457.39 L663.20 457.43 L664.24 457.48 L665.28 457.53 L666.32 457.57 L667.36 457.62"/>
<path clip-path="url(#cp12)" d="M422.70 564.30 L424.54 560.05 L426.38 555.78 L428.23 551.48 L430.07 547.16 L431.91 542.84 L433.75 538.52 L435.60 534.20 L437.44 529.90 L439.28 525.62 L441.12 521.38 L442.97 517.16 L444.81 513.00 L446.65 508.88 L448.49 504.83 L450.33 500.84 L452.18 496.93 L454.02 493.10 L455.86 489.36 L457.70 485.71 L459.55 482.17 L461.39 478.75 L463.23 475.44 L465.07 472.26 L466.92 469.21 L468.76 466.31 L470.60 463.56 L472.44 460.96 L474.28 458.53 L476.13 456.27 L477.97 454.19 L479.81 452.30 L481.65 450.60 L483.50 449.10 L485.34 447.82 L487.18 446.75 L489.02 445.90 L490.87 445.29 L492.71 444.92 L494.55 444.79 L495.59 444.86 L496.63 444.98 L497.67 445.13 L498.72 445.31 L499.76 445.51 L500.80 445.73 L501.84 445.97 L502.88 446.21 L503.92 446.46 L504.96 446.71 L506.00 446.96 L507.04 447.21 L508.09 447.46 L509.13 447.70 L510.17 447.94 L511.21 448.17 L512.25 448.40 L513.29 448.62 L514.33 448.84 L515.37 449.04 L516.42 449.24 L517.46 449.44 L518.50 449.62 L519.54 449.80 L520.58 449.97 L521.62 450.14 L522.66 450.29 L523.70 450.45 L524.75 450.59 L525.79 450.73 L526.83 450.86 L527.87 450.99 L528.91 451.12 L529.95 451.23 L530.99 451.35 L532.03 451.46 L533.07 451.56 L534.12 451.66 L535.16 451.76 L536.20 451.86 L537.24 451.95 L538.28 452.03 L539.32 452.12 L540.36 452.20 L541.40 452.28 L542.45 452.36 L543.49 452.43 L544.53 452.51 L545.57 452.58 L546.61 452.65 L547.65 452.71 L548.69 452.78 L549.73 452.84 L550.78 452.91 L551.82 452.97 L552.86 453.03 L553.90 453.09 L554.94 453.15 L555.98 453.21 L557.02 453.26 L558.06 453.32 L559.10 453.38 L560.15 453.43 L561.19 453.48 L562.23 453.54 L563.27 453.59 L564.31 453.64 L565.35 453.69 L566.39 453.75 L567.43 453.80 L568.48 453.85 L569.52 453.90 L570.56 453.95 L571.60 454.00 L572.64 454.05 L573.68 454.10 L574.72 454.15 L575.76 454.19 L576.81 454.24 L577.85 454.29 L578.89 454.34 L579.93 454.39 L580.97 454.44 L582.01 454.48 L583.05 454.53 L584.09 454.58 L585.13 454.63 L586.18 454.67 L587.22 454.72 L588.26 454.77 L589.30 454.82 L590.34 454.86 L591.38 454.91 L592.42 454.96 L593.46 455.00 L594.51 455.05 L595.55 455.10 L596.59 455.15 L597.63 455.19 L598.67 455.24 L599.71 455.29 L600.75 455.33 L601.79 455.38 L602.84 455.43 L603.88 455.47 L604.92 455.52 L605.96 455.57 L607.00 455.61 L608.04 455.66 L609.08 455.71 L610.12 455.75 L611.16 455.80 L612.21 455.85 L613.25 455.89 L614.29 455.94 L615.33 455.98 L616.37 456.03 L617.41 456.08 L618.45 456.12 L619.49 456.17 L620.54 456.22 L621.58 456.26 L622.62 456.31 L623.66 456.36 L624.70 456.40 L625.74 456.45 L626.78 456.50 L627.82 456.54 L628.87 456.59 L629.91 456.64 L630.95 456.68 L631.99 456.73 L633.03 456.77 L634.07 456.82 L635.11 456.87 L636.15 456.91 L637.19 456.96 L638.24 457.01 L639.28 457.05 L640.32 457.10 L641.36 457.15 L642.40 457.19 L643.44 457.24 L644.48 457.29 L645.52 457.33 L646.57 457.38 L647.61 457.42 L648.65 457.47 L649.69 457.52 L650.73 457.56 L651.77 457.61 L652.81 457.66 L653.85 457.70 L654.90 457.75 L655.94 457.80 L656.98 457.84 L658.02 457.89 L659.06 457.94 L660.10 457.98 L661.14 458.03 L662.18 458.07 L663.22 458.12 L664.27 458.17"/>
<path clip-path="url(#cp12)" d="M422.70 564.30 L424.53 560.57 L426.35 556.78 L428.18 552.96 L430.01 549.10 L431.83 545.21 L433.66 541.30 L435.49 537.38 L437.31 533.46 L439.14 529.54 L440.96 525.64 L442.79 521.75 L444.62 517.90 L446.44 514.07 L448.27 510.30 L450.10 506.57 L451.92 502.91 L453.75 499.31 L455.58 495.79 L457.40 492.35 L459.23 489.00 L461.06 485.75 L462.88 482.61 L464.71 479.58 L466.53 476.67 L468.36 473.90 L470.19 471.26 L472.01 468.77 L473.84 466.43 L475.67 464.26 L477.49 462.25 L479.32 460.43 L481.15 458.78 L482.97 457.33 L484.80 456.09 L486.63 455.05 L488.45 454.23 L490.28 453.63 L492.10 453.27 L493.93 453.15 L494.97 453.20 L496.01 453.27 L497.05 453.35 L498.08 453.45 L499.12 453.55 L500.16 453.66 L501.20 453.77 L502.24 453.89 L503.28 454.01 L504.31 454.14 L505.35 454.27 L506.39 454.40 L507.43 454.53 L508.47 454.66 L509.51 454.79 L510.54 454.92 L511.58 455.05 L512.62 455.18 L513.66 455.31 L514.70 455.44 L515.74 455.56 L516.77 455.69 L517.81 455.81 L518.85 455.93 L519.89 456.05 L520.93 456.16 L521.97 456.28 L523.00 456.39 L524.04 456.50 L525.08 456.60 L526.12 456.71 L527.16 456.81 L528.19 456.91 L529.23 457.01 L530.27 457.11 L531.31 457.20 L532.35 457.30 L533.39 457.39 L534.42 457.48 L535.46 457.56 L536.50 457.65 L537.54 457.73 L538.58 457.82 L539.62 457.90 L540.65 457.98 L541.69 458.05 L542.73 458.13 L543.77 458.21 L544.81 458.28 L545.85 458.35 L546.88 458.42 L547.92 458.49 L548.96 458.56 L550.00 458.63 L551.04 458.70 L552.08 458.77 L553.11 458.83 L554.15 458.90 L555.19 458.96 L556.23 459.02 L557.27 459.08 L558.31 459.15 L559.34 459.21 L560.38 459.27 L561.42 459.33 L562.46 459.39 L563.50 459.44 L564.54 459.50 L565.57 459.56 L566.61 459.62 L567.65 459.67 L568.69 459.73 L569.73 459.78 L570.77 459.84 L571.80 459.89 L572.84 459.95 L573.88 460.00 L574.92 460.06 L575.96 460.11 L577.00 460.16 L578.03 460.22 L579.07 460.27 L580.11 460.32 L581.15 460.38 L582.19 460.43 L583.22 460.48 L584.26 460.53 L585.30 460.58 L586.34 460.63 L587.38 460.69 L588.42 460.74 L589.45 460.79 L590.49 460.84 L591.53 460.89 L592.57 460.94 L593.61 460.99 L594.65 461.04 L595.68 461.09 L596.72 461.14 L597.76 461.19 L598.80 461.24 L599.84 461.29 L600.88 461.34 L601.91 461.39 L602.95 461.44 L603.99 461.49 L605.03 461.54 L606.07 461.59 L607.11 461.64 L608.14 461.69 L609.18 461.74 L610.22 461.79 L611.26 461.84 L612.30 461.89 L613.34 461.94 L614.37 461.98 L615.41 462.03 L616.45 462.08 L617.49 462.13 L618.53 462.18 L619.57 462.23 L620.60 462.28 L621.64 462.33 L622.68 462.38 L623.72 462.43 L624.76 462.48 L625.80 462.52 L626.83 462.57 L627.87 462.62 L628.91 462.67 L629.95 462.72 L630.99 462.77 L632.02 462.82 L633.06 462.87 L634.10 462.92 L635.14 462.96 L636.18 463.01 L637.22 463.06 L638.25 463.11 L639.29 463.16 L640.33 463.21 L641.37 463.26 L642.41 463.31 L643.45 463.36 L644.48 463.40 L645.52 463.45 L646.56 463.50 L647.60 463.55 L648.64 463.60 L649.68 463.65 L650.71 463.70 L651.75 463.75 L652.79 463.79 L653.83 463.84 L654.87 463.89 L655.91 463.94 L656.94 463.99 L657.98 464.04 L659.02 464.09 L660.06 464.14 L661.10 464.18 L662.14 464.23 L663.17 464.28 L664.21 464.33 L665.25 464.38 L666.29 464.43 L667.33 464.48 L668.37 464.53 L669.40 464.57 L670.44 464.62 L671.48 464.67 L672.52 464.72 L673.56 464.77"/>
</g>
<path d="M484.64 610.80V756.30M546.58 610.80V756.30M608.52 610.80V756.30M670.46 610.80V756.30M422.70 719.92H701.43M422.70 683.55H701.43M422.70 647.17H701.43" stroke="#f3f3f3" stroke-width="1" fill="none"/>
<path d="M422.80 610.80H701.30" stroke="#a6a6a6" stroke-width="1" fill="none"/>
<path d="M701.30 610.80V756.30" stroke="#c4c4c4" stroke-width="1" fill="none"/>
<path d="M422.80 756.30H701.30" stroke="#b4b4b4" stroke-width="1" fill="none"/>
<path d="M422.80 610.80V756.30" stroke="#8c8c8c" stroke-width="1" fill="none"/>
<path d="M484.64 756.30v-2.5M484.64 610.80v2.5M546.58 756.30v-2.5M546.58 610.80v2.5M608.52 756.30v-2.5M608.52 610.80v2.5M670.46 756.30v-2.5M670.46 610.80v2.5M422.80 719.92h2.5M701.30 719.92h-2.5M422.80 683.55h2.5M701.30 683.55h-2.5M422.80 647.17h2.5M701.30 647.17h-2.5" stroke="#c8c8c8" stroke-width="1" fill="none"/>
<text class="tk" x="419.20" y="761.30" text-anchor="end">0</text>
<text class="tk" x="419.20" y="724.92" text-anchor="end">10</text>
<text class="tk" x="419.20" y="688.55" text-anchor="end">20</text>
<text class="tk" x="419.20" y="652.17" text-anchor="end">30</text>
<text class="tk" x="419.20" y="615.80" text-anchor="end">40</text>
<text class="tk" x="422.70" y="772.30" text-anchor="middle">0</text>
<text class="tk" x="484.64" y="772.30" text-anchor="middle">2</text>
<text class="tk" x="546.58" y="772.30" text-anchor="middle">4</text>
<text class="tk" x="608.52" y="772.30" text-anchor="middle">6</text>
<text class="tk" x="670.46" y="772.30" text-anchor="middle">8</text>
<text class="al" x="561.97" y="788.50" text-anchor="middle" textLength="61.6" lengthAdjust="spacingAndGlyphs">Strain (%)</text>
<text class="al" transform="translate(401.80,683.55) rotate(-90)" x="0" y="0" text-anchor="middle" textLength="81.5" lengthAdjust="spacingAndGlyphs">Stress (MPa)</text>
<text class="lt" x="434.80" y="635.30">h</text>
<g fill="none" stroke="#000" stroke-width="2" stroke-linejoin="round" stroke-linecap="round"><clipPath id="cp13"><rect x="420.7" y="608.8" width="280.73" height="149.5"/></clipPath>
<path clip-path="url(#cp13)" d="M422.70 756.30 L424.53 751.73 L426.36 747.11 L428.19 742.46 L430.02 737.78 L431.84 733.09 L433.67 728.38 L435.50 723.68 L437.33 718.98 L439.16 714.31 L440.99 709.66 L442.82 705.04 L444.65 700.46 L446.47 695.94 L448.30 691.48 L450.13 687.09 L451.96 682.77 L453.79 678.55 L455.62 674.41 L457.45 670.38 L459.28 666.47 L461.11 662.67 L462.93 659.00 L464.76 655.48 L466.59 652.09 L468.42 648.87 L470.25 645.81 L472.08 642.92 L473.91 640.21 L475.74 637.69 L477.56 635.38 L479.39 633.26 L481.22 631.37 L483.05 629.70 L484.88 628.26 L486.71 627.07 L488.54 626.12 L490.37 625.44 L492.20 625.02 L494.02 624.88 L495.07 624.96 L496.11 625.11 L497.16 625.29 L498.20 625.51 L499.25 625.75 L500.29 626.02 L501.34 626.30 L502.38 626.59 L503.42 626.88 L504.47 627.17 L505.51 627.47 L506.56 627.76 L507.60 628.05 L508.65 628.33 L509.69 628.61 L510.74 628.88 L511.78 629.14 L512.82 629.39 L513.87 629.63 L514.91 629.86 L515.96 630.09 L517.00 630.30 L518.05 630.51 L519.09 630.71 L520.14 630.90 L521.18 631.08 L522.22 631.25 L523.27 631.42 L524.31 631.58 L525.36 631.73 L526.40 631.88 L527.45 632.02 L528.49 632.15 L529.54 632.28 L530.58 632.40 L531.62 632.52 L532.67 632.64 L533.71 632.75 L534.76 632.85 L535.80 632.96 L536.85 633.06 L537.89 633.15 L538.94 633.25 L539.98 633.34 L541.02 633.42 L542.07 633.51 L543.11 633.59 L544.16 633.67 L545.20 633.75 L546.25 633.83 L547.29 633.91 L548.34 633.98 L549.38 634.05 L550.42 634.12 L551.47 634.19 L552.51 634.26 L553.56 634.33 L554.60 634.40 L555.65 634.46 L556.69 634.53 L557.74 634.59 L558.78 634.66 L559.83 634.72 L560.87 634.78 L561.91 634.85 L562.96 634.91 L564.00 634.97 L565.05 635.03 L566.09 635.09 L567.14 635.15 L568.18 635.21 L569.23 635.27 L570.27 635.33 L571.31 635.39 L572.36 635.45 L573.40 635.51 L574.45 635.57 L575.49 635.62 L576.54 635.68 L577.58 635.74 L578.63 635.80 L579.67 635.86 L580.71 635.91 L581.76 635.97 L582.80 636.03 L583.85 636.09 L584.89 636.14 L585.94 636.20 L586.98 636.26 L588.03 636.31 L589.07 636.37 L590.11 636.43 L591.16 636.49 L592.20 636.54 L593.25 636.60 L594.29 636.66 L595.34 636.71 L596.38 636.77 L597.43 636.83 L598.47 636.88 L599.51 636.94 L600.56 637.00 L601.60 637.05 L602.65 637.11 L603.69 637.17 L604.74 637.22 L605.78 637.28 L606.83 637.34 L607.87 637.39 L608.91 637.45 L609.96 637.51 L611.00 637.56 L612.05 637.62 L613.09 637.68 L614.14 637.73 L615.18 637.79 L616.23 637.84 L617.27 637.90 L618.32 637.96 L619.36 638.01"/>
<path clip-path="url(#cp13)" d="M422.70 756.30 L424.56 751.65 L426.42 746.99 L428.27 742.31 L430.13 737.62 L431.99 732.94 L433.85 728.27 L435.71 723.62 L437.57 719.00 L439.42 714.40 L441.28 709.85 L443.14 705.35 L445.00 700.90 L446.86 696.51 L448.71 692.19 L450.57 687.96 L452.43 683.80 L454.29 679.74 L456.15 675.78 L458.01 671.93 L459.86 668.19 L461.72 664.58 L463.58 661.09 L465.44 657.74 L467.30 654.54 L469.15 651.49 L471.01 648.60 L472.87 645.88 L474.73 643.33 L476.59 640.97 L478.45 638.79 L480.30 636.81 L482.16 635.04 L484.02 633.48 L485.88 632.14 L487.74 631.02 L489.60 630.14 L491.45 629.51 L493.31 629.12 L495.17 628.99 L496.21 629.10 L497.26 629.25 L498.30 629.43 L499.35 629.63 L500.39 629.85 L501.44 630.09 L502.48 630.33 L503.53 630.58 L504.57 630.83 L505.62 631.08 L506.66 631.32 L507.71 631.57 L508.75 631.81 L509.80 632.04 L510.84 632.27 L511.89 632.49 L512.93 632.71 L513.98 632.92 L515.02 633.12 L516.07 633.31 L517.11 633.50 L518.16 633.68 L519.20 633.86 L520.25 634.03 L521.29 634.19 L522.34 634.35 L523.38 634.50 L524.43 634.65 L525.47 634.80 L526.52 634.94 L527.56 635.07 L528.61 635.20 L529.65 635.33 L530.70 635.46 L531.74 635.58 L532.79 635.70 L533.83 635.81 L534.88 635.93 L535.92 636.04 L536.97 636.15 L538.01 636.25 L539.06 636.36 L540.10 636.46 L541.15 636.57 L542.19 636.67 L543.24 636.77 L544.28 636.86 L545.33 636.96 L546.37 637.06 L547.42 637.15 L548.46 637.25 L549.51 637.34 L550.55 637.43 L551.60 637.53 L552.64 637.62 L553.69 637.71 L554.73 637.80 L555.78 637.89 L556.82 637.98 L557.87 638.07 L558.91 638.16 L559.96 638.25 L561.00 638.34 L562.05 638.43 L563.09 638.51 L564.14 638.60 L565.18 638.69 L566.23 638.78 L567.27 638.87 L568.32 638.95 L569.36 639.04 L570.41 639.13 L571.45 639.21 L572.50 639.30 L573.54 639.39 L574.59 639.47 L575.63 639.56 L576.68 639.65 L577.72 639.73 L578.77 639.82 L579.81 639.91 L580.86 639.99 L581.90 640.08 L582.95 640.17 L583.99 640.25 L585.04 640.34 L586.08 640.42 L587.13 640.51 L588.17 640.60 L589.22 640.68 L590.26 640.77 L591.31 640.86 L592.35 640.94 L593.40 641.03 L594.44 641.11 L595.49 641.20 L596.53 641.29 L597.58 641.37 L598.62 641.46 L599.67 641.54 L600.71 641.63 L601.76 641.72 L602.80 641.80 L603.85 641.89 L604.89 641.97 L605.94 642.06 L606.98 642.14 L608.03 642.23 L609.07 642.32 L610.12 642.40 L611.16 642.49 L612.21 642.57 L613.25 642.66 L614.30 642.75 L615.34 642.83 L616.39 642.92 L617.43 643.00 L618.48 643.09 L619.52 643.18 L620.57 643.26 L621.61 643.35 L622.66 643.43 L623.70 643.52 L624.75 643.61 L625.79 643.69 L626.84 643.78 L627.88 643.86 L628.93 643.95 L629.97 644.04 L631.02 644.12 L632.06 644.21 L633.11 644.29 L634.15 644.38 L635.20 644.46 L636.24 644.55 L637.29 644.64 L638.33 644.72 L639.38 644.81 L640.42 644.89 L641.47 644.98 L642.51 645.07 L643.56 645.15 L644.60 645.24 L645.65 645.32 L646.69 645.41 L647.74 645.50 L648.78 645.58"/>
<path clip-path="url(#cp13)" d="M422.70 756.30 L424.56 751.42 L426.42 746.60 L428.27 741.85 L430.13 737.17 L431.99 732.55 L433.85 728.01 L435.71 723.53 L437.57 719.13 L439.42 714.80 L441.28 710.54 L443.14 706.35 L445.00 702.25 L446.86 698.22 L448.71 694.27 L450.57 690.40 L452.43 686.61 L454.29 682.91 L456.15 679.29 L458.01 675.77 L459.86 672.33 L461.72 668.99 L463.58 665.74 L465.44 662.60 L467.30 659.55 L469.15 656.61 L471.01 653.79 L472.87 651.08 L474.73 648.48 L476.59 646.02 L478.45 643.69 L480.30 641.51 L482.16 639.48 L484.02 637.62 L485.88 635.94 L487.74 634.48 L489.60 633.26 L491.45 632.33 L493.31 631.74 L495.17 631.53 L496.22 631.61 L497.26 631.74 L498.31 631.91 L499.36 632.10 L500.40 632.32 L501.45 632.56 L502.50 632.80 L503.55 633.06 L504.59 633.31 L505.64 633.56 L506.69 633.81 L507.73 634.06 L508.78 634.30 L509.83 634.54 L510.87 634.76 L511.92 634.98 L512.97 635.19 L514.01 635.40 L515.06 635.59 L516.11 635.77 L517.16 635.95 L518.20 636.12 L519.25 636.28 L520.30 636.43 L521.34 636.58 L522.39 636.72 L523.44 636.85 L524.48 636.98 L525.53 637.10 L526.58 637.22 L527.62 637.33 L528.67 637.44 L529.72 637.54 L530.77 637.63 L531.81 637.73 L532.86 637.82 L533.91 637.91 L534.95 637.99 L536.00 638.07 L537.05 638.15 L538.09 638.22 L539.14 638.30 L540.19 638.37 L541.23 638.44 L542.28 638.51 L543.33 638.57 L544.38 638.64 L545.42 638.70 L546.47 638.76 L547.52 638.82 L548.56 638.88 L549.61 638.94 L550.66 639.00 L551.70 639.06 L552.75 639.11 L553.80 639.17 L554.84 639.22 L555.89 639.28 L556.94 639.33 L557.99 639.39 L559.03 639.44 L560.08 639.49 L561.13 639.55 L562.17 639.60 L563.22 639.65 L564.27 639.70 L565.31 639.75 L566.36 639.81 L567.41 639.86 L568.45 639.91 L569.50 639.96 L570.55 640.01 L571.60 640.06 L572.64 640.11 L573.69 640.16 L574.74 640.21 L575.78 640.26 L576.83 640.31 L577.88 640.36 L578.92 640.41 L579.97 640.46 L581.02 640.51 L582.06 640.56 L583.11 640.61 L584.16 640.66 L585.20 640.71 L586.25 640.76 L587.30 640.81 L588.35 640.86 L589.39 640.91 L590.44 640.95 L591.49 641.00"/>
<path clip-path="url(#cp13)" d="M422.70 756.30 L424.57 751.13 L426.43 746.04 L428.30 741.04 L430.16 736.13 L432.03 731.30 L433.90 726.56 L435.76 721.91 L437.63 717.35 L439.50 712.89 L441.36 708.51 L443.23 704.23 L445.09 700.05 L446.96 695.96 L448.83 691.97 L450.69 688.08 L452.56 684.29 L454.42 680.60 L456.29 677.02 L458.16 673.54 L460.02 670.18 L461.89 666.92 L463.76 663.78 L465.62 660.75 L467.49 657.84 L469.35 655.06 L471.22 652.40 L473.09 649.87 L474.95 647.48 L476.82 645.22 L478.68 643.11 L480.55 641.15 L482.42 639.35 L484.28 637.73 L486.15 636.29 L488.01 635.05 L489.88 634.03 L491.75 633.27 L493.61 632.79 L495.48 632.62 L496.53 632.71 L497.58 632.85 L498.63 633.02 L499.68 633.22 L500.73 633.44 L501.78 633.67 L502.83 633.92 L503.88 634.17 L504.93 634.42 L505.97 634.67 L507.02 634.92 L508.07 635.16 L509.12 635.40 L510.17 635.64 L511.22 635.86 L512.27 636.08 L513.32 636.29 L514.37 636.50 L515.42 636.69 L516.47 636.88 L517.52 637.06 L518.57 637.23 L519.62 637.40 L520.67 637.56 L521.72 637.71 L522.77 637.85 L523.82 637.99 L524.87 638.13 L525.92 638.26 L526.97 638.38 L528.02 638.50 L529.06 638.61 L530.11 638.72 L531.16 638.83 L532.21 638.93 L533.26 639.03 L534.31 639.13 L535.36 639.22 L536.41 639.31 L537.46 639.40 L538.51 639.48 L539.56 639.57 L540.61 639.65 L541.66 639.73 L542.71 639.81 L543.76 639.89 L544.81 639.96 L545.86 640.04 L546.91 640.11 L547.96 640.18 L549.01 640.25 L550.06 640.32 L551.11 640.39 L552.15 640.46 L553.20 640.53 L554.25 640.60 L555.30 640.67 L556.35 640.73 L557.40 640.80 L558.45 640.87 L559.50 640.93 L560.55 641.00 L561.60 641.06 L562.65 641.13 L563.70 641.19 L564.75 641.25 L565.80 641.32 L566.85 641.38 L567.90 641.44 L568.95 641.51 L570.00 641.57 L571.05 641.63 L572.10 641.70 L573.15 641.76 L574.19 641.82 L575.24 641.88 L576.29 641.95 L577.34 642.01 L578.39 642.07 L579.44 642.13 L580.49 642.20 L581.54 642.26 L582.59 642.32 L583.64 642.38 L584.69 642.44 L585.74 642.51 L586.79 642.57 L587.84 642.63 L588.89 642.69 L589.94 642.75"/>
<path clip-path="url(#cp13)" d="M422.70 756.30 L424.57 750.95 L426.45 745.71 L428.32 740.56 L430.20 735.51 L432.07 730.56 L433.94 725.71 L435.82 720.97 L437.69 716.33 L439.57 711.79 L441.44 707.36 L443.31 703.04 L445.19 698.82 L447.06 694.71 L448.94 690.71 L450.81 686.83 L452.69 683.05 L454.56 679.40 L456.43 675.85 L458.31 672.43 L460.18 669.12 L462.06 665.94 L463.93 662.88 L465.80 659.95 L467.68 657.14 L469.55 654.47 L471.43 651.93 L473.30 649.52 L475.17 647.26 L477.05 645.14 L478.92 643.18 L480.80 641.36 L482.67 639.72 L484.54 638.24 L486.42 636.94 L488.29 635.83 L490.17 634.94 L492.04 634.27 L493.92 633.86 L495.79 633.72 L496.84 633.81 L497.88 633.95 L498.93 634.14 L499.98 634.35 L501.02 634.58 L502.07 634.83 L503.12 635.09 L504.16 635.36 L505.21 635.63 L506.26 635.89 L507.31 636.16 L508.35 636.42 L509.40 636.68 L510.45 636.93 L511.49 637.17 L512.54 637.40 L513.59 637.63 L514.63 637.84 L515.68 638.05 L516.73 638.25 L517.77 638.44 L518.82 638.63 L519.87 638.80 L520.92 638.97 L521.96 639.14 L523.01 639.29 L524.06 639.44 L525.10 639.58 L526.15 639.72 L527.20 639.85 L528.24 639.98 L529.29 640.10 L530.34 640.22 L531.38 640.33 L532.43 640.44 L533.48 640.54 L534.53 640.65 L535.57 640.74 L536.62 640.84 L537.67 640.94 L538.71 641.03 L539.76 641.12 L540.81 641.20 L541.85 641.29 L542.90 641.37 L543.95 641.45 L544.99 641.53 L546.04 641.61 L547.09 641.69 L548.14 641.77 L549.18 641.84 L550.23 641.92 L551.28 641.99 L552.32 642.07 L553.37 642.14 L554.42 642.21 L555.46 642.28 L556.51 642.35 L557.56 642.42 L558.60 642.49 L559.65 642.56 L560.70 642.63 L561.75 642.70 L562.79 642.77 L563.84 642.84 L564.89 642.90 L565.93 642.97 L566.98 643.04 L568.03 643.11 L569.07 643.17 L570.12 643.24 L571.17 643.31 L572.21 643.37 L573.26 643.44 L574.31 643.50 L575.36 643.57 L576.40 643.64 L577.45 643.70 L578.50 643.77 L579.54 643.83 L580.59 643.90 L581.64 643.97 L582.68 644.03 L583.73 644.10 L584.78 644.16 L585.82 644.23 L586.87 644.29 L587.92 644.36 L588.97 644.42 L590.01 644.49 L591.06 644.56 L592.11 644.62"/>
</g>
</svg></body></html>
